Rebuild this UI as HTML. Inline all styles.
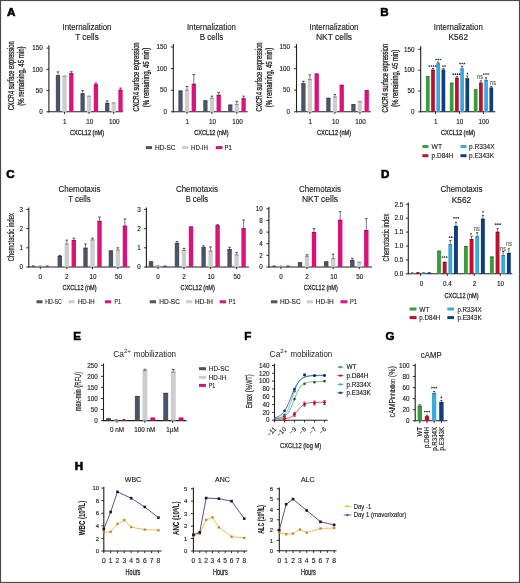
<!DOCTYPE html>
<html><head><meta charset="utf-8">
<style>
html,body{margin:0;padding:0;background:#fff;}
body{width:520px;height:583px;overflow:hidden;}
svg{display:block;will-change:transform;}
text{font-family:"Liberation Sans",sans-serif;}
</style></head><body>
<svg width="520" height="583" viewBox="0 0 520 583">
<rect x="0" y="0" width="520" height="583" fill="#fff"/>
<text x="6.90" y="16.45" font-size="11.6" font-weight="bold" fill="#000" stroke="#000" stroke-width="0.6">A</text>
<text x="380.25" y="16.35" font-size="11.6" font-weight="bold" fill="#000" stroke="#000" stroke-width="0.6">B</text>
<text x="6.35" y="178.15" font-size="11.6" font-weight="bold" fill="#000" stroke="#000" stroke-width="0.6">C</text>
<text x="380.95" y="178.35" font-size="11.6" font-weight="bold" fill="#000" stroke="#000" stroke-width="0.6">D</text>
<text x="73.25" y="340.15" font-size="11.6" font-weight="bold" fill="#000" stroke="#000" stroke-width="0.6">E</text>
<text x="244.35" y="340.15" font-size="11.6" font-weight="bold" fill="#000" stroke="#000" stroke-width="0.6">F</text>
<text x="385.60" y="340.15" font-size="11.6" font-weight="bold" fill="#000" stroke="#000" stroke-width="0.6">G</text>
<text x="74.75" y="470.35" font-size="11.6" font-weight="bold" fill="#000" stroke="#000" stroke-width="0.6">H</text>
<text x="87.00" y="30.39" font-size="8.3" text-anchor="middle" fill="#222" textLength="49.00" lengthAdjust="spacingAndGlyphs" stroke="#222" stroke-width="0.14">Internalization</text>
<text x="87.00" y="39.89" font-size="8.3" text-anchor="middle" fill="#222" textLength="23.50" lengthAdjust="spacingAndGlyphs" stroke="#222" stroke-width="0.14">T cells</text>
<text transform="translate(14.00,75.80) rotate(-90)" x="0" y="0" font-size="8.6" text-anchor="middle" fill="#222" textLength="69.00" lengthAdjust="spacingAndGlyphs" stroke="#222" stroke-width="0.3">CXCR4 surface expression</text>
<text transform="translate(24.20,76.10) rotate(-90)" x="0" y="0" font-size="8.6" text-anchor="middle" fill="#222" textLength="59.50" lengthAdjust="spacingAndGlyphs" stroke="#222" stroke-width="0.3">(% remaining, 45 min)</text>
<line x1="48.90" y1="45.20" x2="48.90" y2="112.30" stroke="#1e1e1e" stroke-width="1.1"/>
<line x1="48.40" y1="111.80" x2="123.00" y2="111.80" stroke="#1e1e1e" stroke-width="1.1"/>
<line x1="46.40" y1="48.10" x2="48.90" y2="48.10" stroke="#1e1e1e" stroke-width="0.9"/>
<text x="42.80" y="50.37" font-size="6.3" text-anchor="end" fill="#222" stroke="#222" stroke-width="0.14">150</text>
<line x1="46.40" y1="69.33" x2="48.90" y2="69.33" stroke="#1e1e1e" stroke-width="0.9"/>
<text x="42.80" y="71.60" font-size="6.3" text-anchor="end" fill="#222" stroke="#222" stroke-width="0.14">100</text>
<line x1="46.40" y1="90.57" x2="48.90" y2="90.57" stroke="#1e1e1e" stroke-width="0.9"/>
<text x="42.80" y="92.83" font-size="6.3" text-anchor="end" fill="#222" stroke="#222" stroke-width="0.14">50</text>
<line x1="46.40" y1="111.80" x2="48.90" y2="111.80" stroke="#1e1e1e" stroke-width="0.9"/>
<text x="42.80" y="114.07" font-size="6.3" text-anchor="end" fill="#222" stroke="#222" stroke-width="0.14">0</text>
<line x1="64.50" y1="111.80" x2="64.50" y2="114.00" stroke="#1e1e1e" stroke-width="0.9"/>
<line x1="89.10" y1="111.80" x2="89.10" y2="114.00" stroke="#1e1e1e" stroke-width="0.9"/>
<line x1="113.70" y1="111.80" x2="113.70" y2="114.00" stroke="#1e1e1e" stroke-width="0.9"/>
<rect x="55.85" y="75.32" width="4.30" height="36.58" fill="#4a5466"/>
<line x1="56.15" y1="75.72" x2="59.85" y2="75.72" stroke="#2c3442" stroke-width="0.8"/>
<line x1="58.00" y1="71.92" x2="58.00" y2="75.32" stroke="#555" stroke-width="0.8"/>
<line x1="56.70" y1="71.92" x2="59.30" y2="71.92" stroke="#3a3a3a" stroke-width="0.9"/>
<rect x="62.35" y="75.75" width="4.30" height="36.15" fill="#cdcdcd"/>
<line x1="62.65" y1="76.15" x2="66.35" y2="76.15" stroke="#7a7a7a" stroke-width="0.8"/>
<rect x="69.15" y="73.19" width="4.30" height="38.71" fill="#d9127c"/>
<line x1="69.45" y1="73.59" x2="73.15" y2="73.59" stroke="#8c0c52" stroke-width="0.8"/>
<line x1="71.30" y1="71.71" x2="71.30" y2="73.19" stroke="#555" stroke-width="0.8"/>
<line x1="70.00" y1="71.71" x2="72.60" y2="71.71" stroke="#3a3a3a" stroke-width="0.9"/>
<rect x="80.45" y="93.40" width="4.30" height="18.50" fill="#4a5466"/>
<line x1="80.75" y1="93.80" x2="84.45" y2="93.80" stroke="#2c3442" stroke-width="0.8"/>
<line x1="82.60" y1="90.63" x2="82.60" y2="93.40" stroke="#555" stroke-width="0.8"/>
<line x1="81.30" y1="90.63" x2="83.90" y2="90.63" stroke="#3a3a3a" stroke-width="0.9"/>
<rect x="86.95" y="95.74" width="4.30" height="16.16" fill="#cdcdcd"/>
<line x1="87.25" y1="96.14" x2="90.95" y2="96.14" stroke="#7a7a7a" stroke-width="0.8"/>
<rect x="93.75" y="84.25" width="4.30" height="27.65" fill="#d9127c"/>
<line x1="94.05" y1="84.65" x2="97.75" y2="84.65" stroke="#8c0c52" stroke-width="0.8"/>
<line x1="95.90" y1="82.98" x2="95.90" y2="84.25" stroke="#555" stroke-width="0.8"/>
<line x1="94.60" y1="82.98" x2="97.20" y2="82.98" stroke="#3a3a3a" stroke-width="0.9"/>
<rect x="105.05" y="102.97" width="4.30" height="8.93" fill="#4a5466"/>
<line x1="105.35" y1="103.37" x2="109.05" y2="103.37" stroke="#2c3442" stroke-width="0.8"/>
<line x1="107.20" y1="100.84" x2="107.20" y2="102.97" stroke="#555" stroke-width="0.8"/>
<line x1="105.90" y1="100.84" x2="108.50" y2="100.84" stroke="#3a3a3a" stroke-width="0.9"/>
<rect x="111.55" y="102.54" width="4.30" height="9.36" fill="#cdcdcd"/>
<line x1="111.85" y1="102.94" x2="115.55" y2="102.94" stroke="#7a7a7a" stroke-width="0.8"/>
<rect x="118.35" y="89.78" width="4.30" height="22.12" fill="#d9127c"/>
<line x1="118.65" y1="90.18" x2="122.35" y2="90.18" stroke="#8c0c52" stroke-width="0.8"/>
<line x1="120.50" y1="88.08" x2="120.50" y2="89.78" stroke="#555" stroke-width="0.8"/>
<line x1="119.20" y1="88.08" x2="121.80" y2="88.08" stroke="#3a3a3a" stroke-width="0.9"/>
<text x="64.80" y="123.97" font-size="6.3" text-anchor="middle" fill="#222" stroke="#222" stroke-width="0.14">1</text>
<text x="89.70" y="123.97" font-size="6.3" text-anchor="middle" fill="#222" stroke="#222" stroke-width="0.14">10</text>
<text x="114.30" y="123.97" font-size="6.3" text-anchor="middle" fill="#222" stroke="#222" stroke-width="0.14">100</text>
<text x="87.00" y="135.18" font-size="8.0" text-anchor="middle" fill="#222" textLength="34.20" lengthAdjust="spacingAndGlyphs" stroke="#222" stroke-width="0.3">CXCL12 (nM)</text>
<text x="211.40" y="30.39" font-size="8.3" text-anchor="middle" fill="#222" textLength="49.00" lengthAdjust="spacingAndGlyphs" stroke="#222" stroke-width="0.14">Internalization</text>
<text x="211.40" y="39.89" font-size="8.3" text-anchor="middle" fill="#222" textLength="23.50" lengthAdjust="spacingAndGlyphs" stroke="#222" stroke-width="0.14">B cells</text>
<text transform="translate(139.00,77.00) rotate(-90)" x="0" y="0" font-size="8.6" text-anchor="middle" fill="#222" textLength="69.00" lengthAdjust="spacingAndGlyphs" stroke="#222" stroke-width="0.3">CXCR4 surface expression</text>
<text transform="translate(149.20,77.50) rotate(-90)" x="0" y="0" font-size="8.6" text-anchor="middle" fill="#222" textLength="59.50" lengthAdjust="spacingAndGlyphs" stroke="#222" stroke-width="0.3">(% remaining, 45 min)</text>
<line x1="173.30" y1="44.10" x2="173.30" y2="112.30" stroke="#1e1e1e" stroke-width="1.1"/>
<line x1="172.80" y1="111.80" x2="247.60" y2="111.80" stroke="#1e1e1e" stroke-width="1.1"/>
<line x1="170.80" y1="47.00" x2="173.30" y2="47.00" stroke="#1e1e1e" stroke-width="0.9"/>
<text x="167.00" y="49.27" font-size="6.3" text-anchor="end" fill="#222" stroke="#222" stroke-width="0.14">150</text>
<line x1="170.80" y1="68.60" x2="173.30" y2="68.60" stroke="#1e1e1e" stroke-width="0.9"/>
<text x="167.00" y="70.87" font-size="6.3" text-anchor="end" fill="#222" stroke="#222" stroke-width="0.14">100</text>
<line x1="170.80" y1="90.20" x2="173.30" y2="90.20" stroke="#1e1e1e" stroke-width="0.9"/>
<text x="167.00" y="92.47" font-size="6.3" text-anchor="end" fill="#222" stroke="#222" stroke-width="0.14">50</text>
<line x1="170.80" y1="111.80" x2="173.30" y2="111.80" stroke="#1e1e1e" stroke-width="0.9"/>
<text x="167.00" y="114.07" font-size="6.3" text-anchor="end" fill="#222" stroke="#222" stroke-width="0.14">0</text>
<line x1="187.00" y1="111.80" x2="187.00" y2="114.00" stroke="#1e1e1e" stroke-width="0.9"/>
<line x1="211.90" y1="111.80" x2="211.90" y2="114.00" stroke="#1e1e1e" stroke-width="0.9"/>
<line x1="236.80" y1="111.80" x2="236.80" y2="114.00" stroke="#1e1e1e" stroke-width="0.9"/>
<rect x="178.35" y="90.63" width="4.30" height="21.27" fill="#4a5466"/>
<line x1="178.65" y1="91.03" x2="182.35" y2="91.03" stroke="#2c3442" stroke-width="0.8"/>
<rect x="184.85" y="89.78" width="4.30" height="22.12" fill="#cdcdcd"/>
<line x1="185.15" y1="90.18" x2="188.85" y2="90.18" stroke="#7a7a7a" stroke-width="0.8"/>
<line x1="187.00" y1="86.38" x2="187.00" y2="89.78" stroke="#555" stroke-width="0.8"/>
<line x1="185.70" y1="86.38" x2="188.30" y2="86.38" stroke="#3a3a3a" stroke-width="0.9"/>
<rect x="191.65" y="83.83" width="4.30" height="28.07" fill="#d9127c"/>
<line x1="191.95" y1="84.23" x2="195.65" y2="84.23" stroke="#8c0c52" stroke-width="0.8"/>
<line x1="193.80" y1="74.47" x2="193.80" y2="83.83" stroke="#555" stroke-width="0.8"/>
<line x1="192.50" y1="74.47" x2="195.10" y2="74.47" stroke="#3a3a3a" stroke-width="0.9"/>
<rect x="203.25" y="100.42" width="4.30" height="11.48" fill="#4a5466"/>
<line x1="203.55" y1="100.82" x2="207.25" y2="100.82" stroke="#2c3442" stroke-width="0.8"/>
<rect x="209.75" y="97.86" width="4.30" height="14.04" fill="#cdcdcd"/>
<line x1="210.05" y1="98.26" x2="213.75" y2="98.26" stroke="#7a7a7a" stroke-width="0.8"/>
<line x1="211.90" y1="96.16" x2="211.90" y2="97.86" stroke="#555" stroke-width="0.8"/>
<line x1="210.60" y1="96.16" x2="213.20" y2="96.16" stroke="#3a3a3a" stroke-width="0.9"/>
<rect x="216.55" y="94.89" width="4.30" height="17.01" fill="#d9127c"/>
<line x1="216.85" y1="95.29" x2="220.55" y2="95.29" stroke="#8c0c52" stroke-width="0.8"/>
<line x1="218.70" y1="92.33" x2="218.70" y2="94.89" stroke="#555" stroke-width="0.8"/>
<line x1="217.40" y1="92.33" x2="220.00" y2="92.33" stroke="#3a3a3a" stroke-width="0.9"/>
<rect x="228.15" y="104.67" width="4.30" height="7.23" fill="#4a5466"/>
<line x1="228.45" y1="105.07" x2="232.15" y2="105.07" stroke="#2c3442" stroke-width="0.8"/>
<rect x="234.65" y="104.24" width="4.30" height="7.66" fill="#cdcdcd"/>
<line x1="234.95" y1="104.64" x2="238.65" y2="104.64" stroke="#7a7a7a" stroke-width="0.8"/>
<line x1="236.80" y1="101.27" x2="236.80" y2="104.24" stroke="#555" stroke-width="0.8"/>
<line x1="235.50" y1="101.27" x2="238.10" y2="101.27" stroke="#3a3a3a" stroke-width="0.9"/>
<rect x="241.45" y="98.29" width="4.30" height="13.61" fill="#d9127c"/>
<line x1="241.75" y1="98.69" x2="245.45" y2="98.69" stroke="#8c0c52" stroke-width="0.8"/>
<line x1="243.60" y1="96.16" x2="243.60" y2="98.29" stroke="#555" stroke-width="0.8"/>
<line x1="242.30" y1="96.16" x2="244.90" y2="96.16" stroke="#3a3a3a" stroke-width="0.9"/>
<text x="187.30" y="123.97" font-size="6.3" text-anchor="middle" fill="#222" stroke="#222" stroke-width="0.14">1</text>
<text x="212.50" y="123.97" font-size="6.3" text-anchor="middle" fill="#222" stroke="#222" stroke-width="0.14">10</text>
<text x="237.40" y="123.97" font-size="6.3" text-anchor="middle" fill="#222" stroke="#222" stroke-width="0.14">100</text>
<text x="211.40" y="135.18" font-size="8.0" text-anchor="middle" fill="#222" textLength="34.20" lengthAdjust="spacingAndGlyphs" stroke="#222" stroke-width="0.3">CXCL12 (nM)</text>
<rect x="145.80" y="146.10" width="6.20" height="3.00" fill="#4a5466"/>
<text x="155.00" y="150.12" font-size="7.0" text-anchor="start" fill="#1e1e1e" textLength="20.50" lengthAdjust="spacingAndGlyphs" stroke="#1e1e1e" stroke-width="0.14">HD-SC</text>
<rect x="182.00" y="146.10" width="6.30" height="3.00" fill="#cdcdcd"/>
<text x="191.00" y="150.12" font-size="7.0" text-anchor="start" fill="#1e1e1e" textLength="17.00" lengthAdjust="spacingAndGlyphs" stroke="#1e1e1e" stroke-width="0.14">HD-IH</text>
<rect x="215.80" y="146.10" width="6.70" height="3.00" fill="#d9127c"/>
<text x="224.50" y="150.12" font-size="7.0" text-anchor="start" fill="#1e1e1e" textLength="7.30" lengthAdjust="spacingAndGlyphs" stroke="#1e1e1e" stroke-width="0.14">P1</text>
<text x="334.00" y="30.39" font-size="8.3" text-anchor="middle" fill="#222" textLength="49.00" lengthAdjust="spacingAndGlyphs" stroke="#222" stroke-width="0.14">Internalization</text>
<text x="334.00" y="39.89" font-size="8.3" text-anchor="middle" fill="#222" textLength="36.00" lengthAdjust="spacingAndGlyphs" stroke="#222" stroke-width="0.14">NKT cells</text>
<text transform="translate(261.80,77.00) rotate(-90)" x="0" y="0" font-size="8.6" text-anchor="middle" fill="#222" textLength="69.00" lengthAdjust="spacingAndGlyphs" stroke="#222" stroke-width="0.3">CXCR4 surface expression</text>
<text transform="translate(272.10,77.50) rotate(-90)" x="0" y="0" font-size="8.6" text-anchor="middle" fill="#222" textLength="59.50" lengthAdjust="spacingAndGlyphs" stroke="#222" stroke-width="0.3">(% remaining, 45 min)</text>
<line x1="296.50" y1="44.10" x2="296.50" y2="112.30" stroke="#1e1e1e" stroke-width="1.1"/>
<line x1="296.00" y1="111.80" x2="370.70" y2="111.80" stroke="#1e1e1e" stroke-width="1.1"/>
<line x1="294.00" y1="47.00" x2="296.50" y2="47.00" stroke="#1e1e1e" stroke-width="0.9"/>
<text x="290.00" y="49.27" font-size="6.3" text-anchor="end" fill="#222" stroke="#222" stroke-width="0.14">150</text>
<line x1="294.00" y1="68.60" x2="296.50" y2="68.60" stroke="#1e1e1e" stroke-width="0.9"/>
<text x="290.00" y="70.87" font-size="6.3" text-anchor="end" fill="#222" stroke="#222" stroke-width="0.14">100</text>
<line x1="294.00" y1="90.20" x2="296.50" y2="90.20" stroke="#1e1e1e" stroke-width="0.9"/>
<text x="290.00" y="92.47" font-size="6.3" text-anchor="end" fill="#222" stroke="#222" stroke-width="0.14">50</text>
<line x1="294.00" y1="111.80" x2="296.50" y2="111.80" stroke="#1e1e1e" stroke-width="0.9"/>
<text x="290.00" y="114.07" font-size="6.3" text-anchor="end" fill="#222" stroke="#222" stroke-width="0.14">0</text>
<line x1="309.90" y1="111.80" x2="309.90" y2="114.00" stroke="#1e1e1e" stroke-width="0.9"/>
<line x1="334.90" y1="111.80" x2="334.90" y2="114.00" stroke="#1e1e1e" stroke-width="0.9"/>
<line x1="359.90" y1="111.80" x2="359.90" y2="114.00" stroke="#1e1e1e" stroke-width="0.9"/>
<rect x="301.25" y="83.40" width="4.30" height="28.50" fill="#4a5466"/>
<line x1="301.55" y1="83.80" x2="305.25" y2="83.80" stroke="#2c3442" stroke-width="0.8"/>
<line x1="303.40" y1="81.28" x2="303.40" y2="83.40" stroke="#555" stroke-width="0.8"/>
<line x1="302.10" y1="81.28" x2="304.70" y2="81.28" stroke="#3a3a3a" stroke-width="0.9"/>
<rect x="307.75" y="79.15" width="4.30" height="32.75" fill="#cdcdcd"/>
<line x1="308.05" y1="79.55" x2="311.75" y2="79.55" stroke="#7a7a7a" stroke-width="0.8"/>
<line x1="309.90" y1="74.90" x2="309.90" y2="79.15" stroke="#555" stroke-width="0.8"/>
<line x1="308.60" y1="74.90" x2="311.20" y2="74.90" stroke="#3a3a3a" stroke-width="0.9"/>
<rect x="314.55" y="73.62" width="4.30" height="38.28" fill="#d9127c"/>
<line x1="314.85" y1="74.02" x2="318.55" y2="74.02" stroke="#8c0c52" stroke-width="0.8"/>
<rect x="326.25" y="97.86" width="4.30" height="14.04" fill="#4a5466"/>
<line x1="326.55" y1="98.26" x2="330.25" y2="98.26" stroke="#2c3442" stroke-width="0.8"/>
<rect x="332.75" y="96.59" width="4.30" height="15.31" fill="#cdcdcd"/>
<line x1="333.05" y1="96.99" x2="336.75" y2="96.99" stroke="#7a7a7a" stroke-width="0.8"/>
<line x1="334.90" y1="94.46" x2="334.90" y2="96.59" stroke="#555" stroke-width="0.8"/>
<line x1="333.60" y1="94.46" x2="336.20" y2="94.46" stroke="#3a3a3a" stroke-width="0.9"/>
<rect x="339.55" y="84.85" width="4.30" height="27.05" fill="#d9127c"/>
<line x1="339.85" y1="85.25" x2="343.55" y2="85.25" stroke="#8c0c52" stroke-width="0.8"/>
<rect x="351.25" y="104.24" width="4.30" height="7.66" fill="#4a5466"/>
<line x1="351.55" y1="104.64" x2="355.25" y2="104.64" stroke="#2c3442" stroke-width="0.8"/>
<rect x="357.75" y="101.27" width="4.30" height="10.63" fill="#cdcdcd"/>
<line x1="358.05" y1="101.67" x2="361.75" y2="101.67" stroke="#7a7a7a" stroke-width="0.8"/>
<rect x="364.55" y="90.21" width="4.30" height="21.69" fill="#d9127c"/>
<line x1="364.85" y1="90.61" x2="368.55" y2="90.61" stroke="#8c0c52" stroke-width="0.8"/>
<text x="310.20" y="123.97" font-size="6.3" text-anchor="middle" fill="#222" stroke="#222" stroke-width="0.14">1</text>
<text x="335.50" y="123.97" font-size="6.3" text-anchor="middle" fill="#222" stroke="#222" stroke-width="0.14">10</text>
<text x="360.50" y="123.97" font-size="6.3" text-anchor="middle" fill="#222" stroke="#222" stroke-width="0.14">100</text>
<text x="334.00" y="135.18" font-size="8.0" text-anchor="middle" fill="#222" textLength="34.20" lengthAdjust="spacingAndGlyphs" stroke="#222" stroke-width="0.3">CXCL12 (nM)</text>
<text x="458.30" y="30.39" font-size="8.3" text-anchor="middle" fill="#222" textLength="49.00" lengthAdjust="spacingAndGlyphs" stroke="#222" stroke-width="0.14">Internalization</text>
<text x="458.30" y="40.19" font-size="8.3" text-anchor="middle" fill="#222" textLength="19.50" lengthAdjust="spacingAndGlyphs" stroke="#222" stroke-width="0.14">K562</text>
<text transform="translate(388.10,78.20) rotate(-90)" x="0" y="0" font-size="8.6" text-anchor="middle" fill="#222" textLength="68.50" lengthAdjust="spacingAndGlyphs" stroke="#222" stroke-width="0.3">CXCR4 surface expression</text>
<text transform="translate(398.40,78.20) rotate(-90)" x="0" y="0" font-size="8.6" text-anchor="middle" fill="#222" textLength="57.00" lengthAdjust="spacingAndGlyphs" stroke="#222" stroke-width="0.3">(% remaining, 45 min)</text>
<line x1="420.70" y1="46.30" x2="420.70" y2="112.30" stroke="#1e1e1e" stroke-width="1.1"/>
<line x1="420.20" y1="111.80" x2="495.40" y2="111.80" stroke="#1e1e1e" stroke-width="1.1"/>
<line x1="418.20" y1="49.30" x2="420.70" y2="49.30" stroke="#1e1e1e" stroke-width="0.9"/>
<text x="414.60" y="51.57" font-size="6.3" text-anchor="end" fill="#222" stroke="#222" stroke-width="0.14">150</text>
<line x1="418.20" y1="70.13" x2="420.70" y2="70.13" stroke="#1e1e1e" stroke-width="0.9"/>
<text x="414.60" y="72.40" font-size="6.3" text-anchor="end" fill="#222" stroke="#222" stroke-width="0.14">100</text>
<line x1="418.20" y1="90.97" x2="420.70" y2="90.97" stroke="#1e1e1e" stroke-width="0.9"/>
<text x="414.60" y="93.23" font-size="6.3" text-anchor="end" fill="#222" stroke="#222" stroke-width="0.14">50</text>
<line x1="418.20" y1="111.80" x2="420.70" y2="111.80" stroke="#1e1e1e" stroke-width="0.9"/>
<text x="414.60" y="114.07" font-size="6.3" text-anchor="end" fill="#222" stroke="#222" stroke-width="0.14">0</text>
<line x1="435.50" y1="111.80" x2="435.50" y2="114.00" stroke="#1e1e1e" stroke-width="0.9"/>
<line x1="459.40" y1="111.80" x2="459.40" y2="114.00" stroke="#1e1e1e" stroke-width="0.9"/>
<line x1="483.40" y1="111.80" x2="483.40" y2="114.00" stroke="#1e1e1e" stroke-width="0.9"/>
<rect x="425.95" y="76.17" width="3.70" height="35.73" fill="#3c9c3c"/>
<line x1="426.25" y1="76.57" x2="429.35" y2="76.57" stroke="#24602a" stroke-width="0.8"/>
<rect x="431.15" y="69.79" width="3.70" height="42.11" fill="#b8122c"/>
<line x1="431.45" y1="70.19" x2="434.55" y2="70.19" stroke="#6e0a1a" stroke-width="0.8"/>
<line x1="433.00" y1="68.52" x2="433.00" y2="69.79" stroke="#555" stroke-width="0.8"/>
<line x1="431.90" y1="68.52" x2="434.10" y2="68.52" stroke="#3a3a3a" stroke-width="0.9"/>
<rect x="436.35" y="63.41" width="3.70" height="48.49" fill="#3ea8da"/>
<line x1="436.65" y1="63.81" x2="439.75" y2="63.81" stroke="#2a6e90" stroke-width="0.8"/>
<line x1="438.20" y1="62.14" x2="438.20" y2="63.41" stroke="#555" stroke-width="0.8"/>
<line x1="437.10" y1="62.14" x2="439.30" y2="62.14" stroke="#3a3a3a" stroke-width="0.9"/>
<rect x="441.55" y="69.79" width="3.70" height="42.11" fill="#0f3e7a"/>
<line x1="441.85" y1="70.19" x2="444.95" y2="70.19" stroke="#0a2650" stroke-width="0.8"/>
<line x1="443.40" y1="68.52" x2="443.40" y2="69.79" stroke="#555" stroke-width="0.8"/>
<line x1="442.30" y1="68.52" x2="444.50" y2="68.52" stroke="#3a3a3a" stroke-width="0.9"/>
<rect x="449.85" y="82.76" width="3.70" height="29.14" fill="#3c9c3c"/>
<line x1="450.15" y1="83.16" x2="453.25" y2="83.16" stroke="#24602a" stroke-width="0.8"/>
<rect x="455.05" y="77.87" width="3.70" height="34.03" fill="#b8122c"/>
<line x1="455.35" y1="78.27" x2="458.45" y2="78.27" stroke="#6e0a1a" stroke-width="0.8"/>
<line x1="456.90" y1="76.60" x2="456.90" y2="77.87" stroke="#555" stroke-width="0.8"/>
<line x1="455.80" y1="76.60" x2="458.00" y2="76.60" stroke="#3a3a3a" stroke-width="0.9"/>
<rect x="460.25" y="68.52" width="3.70" height="43.38" fill="#3ea8da"/>
<line x1="460.55" y1="68.92" x2="463.65" y2="68.92" stroke="#2a6e90" stroke-width="0.8"/>
<line x1="462.10" y1="66.39" x2="462.10" y2="68.52" stroke="#555" stroke-width="0.8"/>
<line x1="461.00" y1="66.39" x2="463.20" y2="66.39" stroke="#3a3a3a" stroke-width="0.9"/>
<rect x="465.45" y="78.30" width="3.70" height="33.60" fill="#0f3e7a"/>
<line x1="465.75" y1="78.70" x2="468.85" y2="78.70" stroke="#0a2650" stroke-width="0.8"/>
<line x1="467.30" y1="76.17" x2="467.30" y2="78.30" stroke="#555" stroke-width="0.8"/>
<line x1="466.20" y1="76.17" x2="468.40" y2="76.17" stroke="#3a3a3a" stroke-width="0.9"/>
<rect x="473.85" y="89.36" width="3.70" height="22.54" fill="#3c9c3c"/>
<line x1="474.15" y1="89.76" x2="477.25" y2="89.76" stroke="#24602a" stroke-width="0.8"/>
<rect x="479.05" y="82.76" width="3.70" height="29.14" fill="#b8122c"/>
<line x1="479.35" y1="83.16" x2="482.45" y2="83.16" stroke="#6e0a1a" stroke-width="0.8"/>
<line x1="480.90" y1="80.85" x2="480.90" y2="82.76" stroke="#555" stroke-width="0.8"/>
<line x1="479.80" y1="80.85" x2="482.00" y2="80.85" stroke="#3a3a3a" stroke-width="0.9"/>
<rect x="484.25" y="80.00" width="3.70" height="31.90" fill="#3ea8da"/>
<line x1="484.55" y1="80.40" x2="487.65" y2="80.40" stroke="#2a6e90" stroke-width="0.8"/>
<line x1="486.10" y1="77.87" x2="486.10" y2="80.00" stroke="#555" stroke-width="0.8"/>
<line x1="485.00" y1="77.87" x2="487.20" y2="77.87" stroke="#3a3a3a" stroke-width="0.9"/>
<rect x="489.45" y="87.66" width="3.70" height="24.24" fill="#0f3e7a"/>
<line x1="489.75" y1="88.06" x2="492.85" y2="88.06" stroke="#0a2650" stroke-width="0.8"/>
<line x1="491.30" y1="86.38" x2="491.30" y2="87.66" stroke="#555" stroke-width="0.8"/>
<line x1="490.20" y1="86.38" x2="492.40" y2="86.38" stroke="#3a3a3a" stroke-width="0.9"/>
<text x="435.80" y="123.97" font-size="6.3" text-anchor="middle" fill="#222" stroke="#222" stroke-width="0.14">1</text>
<text x="459.80" y="123.97" font-size="6.3" text-anchor="middle" fill="#222" stroke="#222" stroke-width="0.14">10</text>
<text x="483.80" y="123.97" font-size="6.3" text-anchor="middle" fill="#222" stroke="#222" stroke-width="0.14">100</text>
<text x="458.00" y="135.18" font-size="8.0" text-anchor="middle" fill="#222" textLength="34.20" lengthAdjust="spacingAndGlyphs" stroke="#222" stroke-width="0.3">CXCL12 (nM)</text>
<circle cx="436.15" cy="59.50" r="0.85" fill="#2a2a2a"/>
<circle cx="438.30" cy="59.50" r="0.85" fill="#2a2a2a"/>
<circle cx="440.45" cy="59.50" r="0.85" fill="#2a2a2a"/>
<circle cx="429.27" cy="66.00" r="0.85" fill="#2a2a2a"/>
<circle cx="431.43" cy="66.00" r="0.85" fill="#2a2a2a"/>
<circle cx="433.57" cy="66.00" r="0.85" fill="#2a2a2a"/>
<circle cx="435.73" cy="66.00" r="0.85" fill="#2a2a2a"/>
<circle cx="442.93" cy="66.00" r="0.85" fill="#2a2a2a"/>
<circle cx="445.07" cy="66.00" r="0.85" fill="#2a2a2a"/>
<circle cx="460.05" cy="63.50" r="0.85" fill="#2a2a2a"/>
<circle cx="462.20" cy="63.50" r="0.85" fill="#2a2a2a"/>
<circle cx="464.35" cy="63.50" r="0.85" fill="#2a2a2a"/>
<circle cx="453.27" cy="74.20" r="0.85" fill="#2a2a2a"/>
<circle cx="455.43" cy="74.20" r="0.85" fill="#2a2a2a"/>
<circle cx="457.57" cy="74.20" r="0.85" fill="#2a2a2a"/>
<circle cx="459.73" cy="74.20" r="0.85" fill="#2a2a2a"/>
<circle cx="467.50" cy="73.60" r="0.85" fill="#2a2a2a"/>
<text x="480.00" y="79.20" font-size="6.4" text-anchor="middle" fill="#555" textLength="5.80" lengthAdjust="spacingAndGlyphs" stroke="#555" stroke-width="0.1">ns</text>
<circle cx="483.85" cy="74.00" r="0.85" fill="#2a2a2a"/>
<circle cx="486.00" cy="74.00" r="0.85" fill="#2a2a2a"/>
<circle cx="488.15" cy="74.00" r="0.85" fill="#2a2a2a"/>
<text x="493.00" y="84.90" font-size="6.4" text-anchor="middle" fill="#555" textLength="5.80" lengthAdjust="spacingAndGlyphs" stroke="#555" stroke-width="0.1">ns</text>
<rect x="422.40" y="145.00" width="6.00" height="3.00" fill="#3c9c3c"/>
<text x="431.60" y="149.02" font-size="7.0" text-anchor="start" fill="#1e1e1e" textLength="10.40" lengthAdjust="spacingAndGlyphs" stroke="#1e1e1e" stroke-width="0.14">WT</text>
<rect x="460.50" y="145.00" width="6.00" height="3.00" fill="#3ea8da"/>
<text x="469.00" y="149.02" font-size="7.0" text-anchor="start" fill="#1e1e1e" textLength="25.60" lengthAdjust="spacingAndGlyphs" stroke="#1e1e1e" stroke-width="0.14">p.R334X</text>
<rect x="422.40" y="154.20" width="6.00" height="3.00" fill="#b8122c"/>
<text x="431.60" y="158.22" font-size="7.0" text-anchor="start" fill="#1e1e1e" textLength="21.90" lengthAdjust="spacingAndGlyphs" stroke="#1e1e1e" stroke-width="0.14">p.D84H</text>
<rect x="460.50" y="154.20" width="6.00" height="3.00" fill="#0f3e7a"/>
<text x="469.00" y="158.22" font-size="7.0" text-anchor="start" fill="#1e1e1e" textLength="25.00" lengthAdjust="spacingAndGlyphs" stroke="#1e1e1e" stroke-width="0.14">p.E343K</text>
<text x="79.50" y="191.79" font-size="8.3" text-anchor="middle" fill="#222" textLength="42.00" lengthAdjust="spacingAndGlyphs" stroke="#222" stroke-width="0.14">Chemotaxis</text>
<text x="79.50" y="202.39" font-size="8.3" text-anchor="middle" fill="#222" textLength="22.50" lengthAdjust="spacingAndGlyphs" stroke="#222" stroke-width="0.14">T cells</text>
<text transform="translate(14.10,237.20) rotate(-90)" x="0" y="0" font-size="8.6" text-anchor="middle" fill="#222" textLength="48.00" lengthAdjust="spacingAndGlyphs" stroke="#222" stroke-width="0.2">Chemotactic index</text>
<line x1="28.80" y1="207.60" x2="28.80" y2="267.50" stroke="#1e1e1e" stroke-width="1.1"/>
<line x1="28.30" y1="267.00" x2="130.00" y2="267.00" stroke="#1e1e1e" stroke-width="1.1"/>
<line x1="26.30" y1="209.40" x2="28.80" y2="209.40" stroke="#1e1e1e" stroke-width="0.9"/>
<text x="23.00" y="211.67" font-size="6.3" text-anchor="end" fill="#222" stroke="#222" stroke-width="0.14">3</text>
<line x1="26.30" y1="228.60" x2="28.80" y2="228.60" stroke="#1e1e1e" stroke-width="0.9"/>
<text x="23.00" y="230.87" font-size="6.3" text-anchor="end" fill="#222" stroke="#222" stroke-width="0.14">2</text>
<line x1="26.30" y1="247.80" x2="28.80" y2="247.80" stroke="#1e1e1e" stroke-width="0.9"/>
<text x="23.00" y="250.07" font-size="6.3" text-anchor="end" fill="#222" stroke="#222" stroke-width="0.14">1</text>
<line x1="26.30" y1="267.00" x2="28.80" y2="267.00" stroke="#1e1e1e" stroke-width="0.9"/>
<text x="23.00" y="269.27" font-size="6.3" text-anchor="end" fill="#222" stroke="#222" stroke-width="0.14">0</text>
<line x1="40.30" y1="267.00" x2="40.30" y2="269.20" stroke="#1e1e1e" stroke-width="0.9"/>
<line x1="66.80" y1="267.00" x2="66.80" y2="269.20" stroke="#1e1e1e" stroke-width="0.9"/>
<line x1="92.50" y1="267.00" x2="92.50" y2="269.20" stroke="#1e1e1e" stroke-width="0.9"/>
<line x1="117.90" y1="267.00" x2="117.90" y2="269.20" stroke="#1e1e1e" stroke-width="0.9"/>
<rect x="31.10" y="266.42" width="4.40" height="0.58" fill="#4a5466"/>
<line x1="32.00" y1="266.00" x2="34.60" y2="266.00" stroke="#2c3442" stroke-width="1.0"/>
<rect x="38.10" y="266.62" width="4.40" height="0.38" fill="#cdcdcd"/>
<line x1="39.00" y1="266.00" x2="41.60" y2="266.00" stroke="#7a7a7a" stroke-width="1.0"/>
<rect x="45.10" y="266.62" width="4.40" height="0.38" fill="#d9127c"/>
<line x1="46.00" y1="266.00" x2="48.60" y2="266.00" stroke="#8c0c52" stroke-width="1.0"/>
<rect x="57.60" y="256.06" width="4.40" height="10.94" fill="#4a5466"/>
<line x1="57.90" y1="256.46" x2="61.70" y2="256.46" stroke="#2c3442" stroke-width="0.8"/>
<line x1="59.80" y1="255.48" x2="59.80" y2="256.06" stroke="#555" stroke-width="0.8"/>
<line x1="58.50" y1="255.48" x2="61.10" y2="255.48" stroke="#3a3a3a" stroke-width="0.9"/>
<rect x="64.60" y="243.58" width="4.40" height="23.42" fill="#cdcdcd"/>
<line x1="64.90" y1="243.98" x2="68.70" y2="243.98" stroke="#7a7a7a" stroke-width="0.8"/>
<line x1="66.80" y1="240.12" x2="66.80" y2="243.58" stroke="#555" stroke-width="0.8"/>
<line x1="65.50" y1="240.12" x2="68.10" y2="240.12" stroke="#3a3a3a" stroke-width="0.9"/>
<rect x="71.60" y="240.12" width="4.40" height="26.88" fill="#d9127c"/>
<line x1="71.90" y1="240.52" x2="75.70" y2="240.52" stroke="#8c0c52" stroke-width="0.8"/>
<line x1="73.80" y1="238.20" x2="73.80" y2="240.12" stroke="#555" stroke-width="0.8"/>
<line x1="72.50" y1="238.20" x2="75.10" y2="238.20" stroke="#3a3a3a" stroke-width="0.9"/>
<rect x="83.30" y="247.80" width="4.40" height="19.20" fill="#4a5466"/>
<line x1="83.60" y1="248.20" x2="87.40" y2="248.20" stroke="#2c3442" stroke-width="0.8"/>
<line x1="85.50" y1="243.96" x2="85.50" y2="247.80" stroke="#555" stroke-width="0.8"/>
<line x1="84.20" y1="243.96" x2="86.80" y2="243.96" stroke="#3a3a3a" stroke-width="0.9"/>
<rect x="90.30" y="239.54" width="4.40" height="27.46" fill="#cdcdcd"/>
<line x1="90.60" y1="239.94" x2="94.40" y2="239.94" stroke="#7a7a7a" stroke-width="0.8"/>
<line x1="92.50" y1="238.20" x2="92.50" y2="239.54" stroke="#555" stroke-width="0.8"/>
<line x1="91.20" y1="238.20" x2="93.80" y2="238.20" stroke="#3a3a3a" stroke-width="0.9"/>
<rect x="97.30" y="220.92" width="4.40" height="46.08" fill="#d9127c"/>
<line x1="97.60" y1="221.32" x2="101.40" y2="221.32" stroke="#8c0c52" stroke-width="0.8"/>
<line x1="99.50" y1="217.08" x2="99.50" y2="220.92" stroke="#555" stroke-width="0.8"/>
<line x1="98.20" y1="217.08" x2="100.80" y2="217.08" stroke="#3a3a3a" stroke-width="0.9"/>
<rect x="108.70" y="250.49" width="4.40" height="16.51" fill="#4a5466"/>
<line x1="109.00" y1="250.89" x2="112.80" y2="250.89" stroke="#2c3442" stroke-width="0.8"/>
<rect x="115.70" y="249.72" width="4.40" height="17.28" fill="#cdcdcd"/>
<line x1="116.00" y1="250.12" x2="119.80" y2="250.12" stroke="#7a7a7a" stroke-width="0.8"/>
<line x1="117.90" y1="247.80" x2="117.90" y2="249.72" stroke="#555" stroke-width="0.8"/>
<line x1="116.60" y1="247.80" x2="119.20" y2="247.80" stroke="#3a3a3a" stroke-width="0.9"/>
<rect x="122.70" y="225.72" width="4.40" height="41.28" fill="#d9127c"/>
<line x1="123.00" y1="226.12" x2="126.80" y2="226.12" stroke="#8c0c52" stroke-width="0.8"/>
<line x1="124.90" y1="219.00" x2="124.90" y2="225.72" stroke="#555" stroke-width="0.8"/>
<line x1="123.60" y1="219.00" x2="126.20" y2="219.00" stroke="#3a3a3a" stroke-width="0.9"/>
<text x="40.30" y="278.87" font-size="6.3" text-anchor="middle" fill="#222" stroke="#222" stroke-width="0.14">0</text>
<text x="66.80" y="278.87" font-size="6.3" text-anchor="middle" fill="#222" stroke="#222" stroke-width="0.14">2</text>
<text x="93.00" y="278.87" font-size="6.3" text-anchor="middle" fill="#222" stroke="#222" stroke-width="0.14">10</text>
<text x="118.40" y="278.87" font-size="6.3" text-anchor="middle" fill="#222" stroke="#222" stroke-width="0.14">50</text>
<text x="79.50" y="290.38" font-size="8.0" text-anchor="middle" fill="#222" textLength="34.20" lengthAdjust="spacingAndGlyphs" stroke="#222" stroke-width="0.28">CXCL12 (nM)</text>
<rect x="36.50" y="300.30" width="6.00" height="3.00" fill="#4a5466"/>
<text x="45.30" y="304.32" font-size="7.0" text-anchor="start" fill="#1e1e1e" textLength="16.40" lengthAdjust="spacingAndGlyphs" stroke="#1e1e1e" stroke-width="0.14">HD-SC</text>
<rect x="68.60" y="300.30" width="5.90" height="3.00" fill="#cdcdcd"/>
<text x="78.00" y="304.32" font-size="7.0" text-anchor="start" fill="#1e1e1e" textLength="16.60" lengthAdjust="spacingAndGlyphs" stroke="#1e1e1e" stroke-width="0.14">HD-IH</text>
<rect x="105.00" y="300.30" width="6.00" height="3.00" fill="#d9127c"/>
<text x="114.60" y="304.32" font-size="7.0" text-anchor="start" fill="#1e1e1e" textLength="6.10" lengthAdjust="spacingAndGlyphs" stroke="#1e1e1e" stroke-width="0.14">P1</text>
<text x="196.90" y="191.79" font-size="8.3" text-anchor="middle" fill="#222" textLength="42.00" lengthAdjust="spacingAndGlyphs" stroke="#222" stroke-width="0.14">Chemotaxis</text>
<text x="196.90" y="202.39" font-size="8.3" text-anchor="middle" fill="#222" textLength="22.50" lengthAdjust="spacingAndGlyphs" stroke="#222" stroke-width="0.14">B cells</text>
<line x1="146.40" y1="207.60" x2="146.40" y2="267.50" stroke="#1e1e1e" stroke-width="1.1"/>
<line x1="145.90" y1="267.00" x2="249.00" y2="267.00" stroke="#1e1e1e" stroke-width="1.1"/>
<line x1="143.90" y1="209.40" x2="146.40" y2="209.40" stroke="#1e1e1e" stroke-width="0.9"/>
<text x="140.80" y="211.67" font-size="6.3" text-anchor="end" fill="#222" stroke="#222" stroke-width="0.14">3</text>
<line x1="143.90" y1="228.60" x2="146.40" y2="228.60" stroke="#1e1e1e" stroke-width="0.9"/>
<text x="140.80" y="230.87" font-size="6.3" text-anchor="end" fill="#222" stroke="#222" stroke-width="0.14">2</text>
<line x1="143.90" y1="247.80" x2="146.40" y2="247.80" stroke="#1e1e1e" stroke-width="0.9"/>
<text x="140.80" y="250.07" font-size="6.3" text-anchor="end" fill="#222" stroke="#222" stroke-width="0.14">1</text>
<line x1="143.90" y1="267.00" x2="146.40" y2="267.00" stroke="#1e1e1e" stroke-width="0.9"/>
<text x="140.80" y="269.27" font-size="6.3" text-anchor="end" fill="#222" stroke="#222" stroke-width="0.14">0</text>
<line x1="158.00" y1="267.00" x2="158.00" y2="269.20" stroke="#1e1e1e" stroke-width="0.9"/>
<line x1="184.00" y1="267.00" x2="184.00" y2="269.20" stroke="#1e1e1e" stroke-width="0.9"/>
<line x1="210.60" y1="267.00" x2="210.60" y2="269.20" stroke="#1e1e1e" stroke-width="0.9"/>
<line x1="236.60" y1="267.00" x2="236.60" y2="269.20" stroke="#1e1e1e" stroke-width="0.9"/>
<rect x="148.80" y="261.43" width="4.40" height="5.57" fill="#4a5466"/>
<line x1="149.10" y1="261.83" x2="152.90" y2="261.83" stroke="#2c3442" stroke-width="0.8"/>
<rect x="155.80" y="265.08" width="4.40" height="1.92" fill="#cdcdcd"/>
<line x1="156.70" y1="266.00" x2="159.30" y2="266.00" stroke="#7a7a7a" stroke-width="1.0"/>
<rect x="162.80" y="266.04" width="4.40" height="0.96" fill="#d9127c"/>
<line x1="163.70" y1="266.00" x2="166.30" y2="266.00" stroke="#8c0c52" stroke-width="1.0"/>
<rect x="174.80" y="243.00" width="4.40" height="24.00" fill="#4a5466"/>
<line x1="175.10" y1="243.40" x2="178.90" y2="243.40" stroke="#2c3442" stroke-width="0.8"/>
<line x1="177.00" y1="241.46" x2="177.00" y2="243.00" stroke="#555" stroke-width="0.8"/>
<line x1="175.70" y1="241.46" x2="178.30" y2="241.46" stroke="#3a3a3a" stroke-width="0.9"/>
<rect x="181.80" y="250.10" width="4.40" height="16.90" fill="#cdcdcd"/>
<line x1="182.10" y1="250.50" x2="185.90" y2="250.50" stroke="#7a7a7a" stroke-width="0.8"/>
<line x1="184.00" y1="248.38" x2="184.00" y2="250.10" stroke="#555" stroke-width="0.8"/>
<line x1="182.70" y1="248.38" x2="185.30" y2="248.38" stroke="#3a3a3a" stroke-width="0.9"/>
<rect x="188.80" y="226.49" width="4.40" height="40.51" fill="#d9127c"/>
<line x1="189.10" y1="226.89" x2="192.90" y2="226.89" stroke="#8c0c52" stroke-width="0.8"/>
<rect x="201.40" y="247.22" width="4.40" height="19.78" fill="#4a5466"/>
<line x1="201.70" y1="247.62" x2="205.50" y2="247.62" stroke="#2c3442" stroke-width="0.8"/>
<line x1="203.60" y1="245.88" x2="203.60" y2="247.22" stroke="#555" stroke-width="0.8"/>
<line x1="202.30" y1="245.88" x2="204.90" y2="245.88" stroke="#3a3a3a" stroke-width="0.9"/>
<rect x="208.40" y="250.68" width="4.40" height="16.32" fill="#cdcdcd"/>
<line x1="208.70" y1="251.08" x2="212.50" y2="251.08" stroke="#7a7a7a" stroke-width="0.8"/>
<line x1="210.60" y1="246.84" x2="210.60" y2="250.68" stroke="#555" stroke-width="0.8"/>
<line x1="209.30" y1="246.84" x2="211.90" y2="246.84" stroke="#3a3a3a" stroke-width="0.9"/>
<rect x="215.40" y="225.34" width="4.40" height="41.66" fill="#d9127c"/>
<line x1="215.70" y1="225.74" x2="219.50" y2="225.74" stroke="#8c0c52" stroke-width="0.8"/>
<line x1="217.60" y1="224.76" x2="217.60" y2="225.34" stroke="#555" stroke-width="0.8"/>
<line x1="216.30" y1="224.76" x2="218.90" y2="224.76" stroke="#3a3a3a" stroke-width="0.9"/>
<rect x="227.40" y="249.14" width="4.40" height="17.86" fill="#4a5466"/>
<line x1="227.70" y1="249.54" x2="231.50" y2="249.54" stroke="#2c3442" stroke-width="0.8"/>
<line x1="229.60" y1="247.22" x2="229.60" y2="249.14" stroke="#555" stroke-width="0.8"/>
<line x1="228.30" y1="247.22" x2="230.90" y2="247.22" stroke="#3a3a3a" stroke-width="0.9"/>
<rect x="234.40" y="254.52" width="4.40" height="12.48" fill="#cdcdcd"/>
<line x1="234.70" y1="254.92" x2="238.50" y2="254.92" stroke="#7a7a7a" stroke-width="0.8"/>
<line x1="236.60" y1="252.60" x2="236.60" y2="254.52" stroke="#555" stroke-width="0.8"/>
<line x1="235.30" y1="252.60" x2="237.90" y2="252.60" stroke="#3a3a3a" stroke-width="0.9"/>
<rect x="241.40" y="228.22" width="4.40" height="38.78" fill="#d9127c"/>
<line x1="241.70" y1="228.62" x2="245.50" y2="228.62" stroke="#8c0c52" stroke-width="0.8"/>
<line x1="243.60" y1="219.96" x2="243.60" y2="228.22" stroke="#555" stroke-width="0.8"/>
<line x1="242.30" y1="219.96" x2="244.90" y2="219.96" stroke="#3a3a3a" stroke-width="0.9"/>
<text x="158.00" y="278.87" font-size="6.3" text-anchor="middle" fill="#222" stroke="#222" stroke-width="0.14">0</text>
<text x="184.00" y="278.87" font-size="6.3" text-anchor="middle" fill="#222" stroke="#222" stroke-width="0.14">2</text>
<text x="211.10" y="278.87" font-size="6.3" text-anchor="middle" fill="#222" stroke="#222" stroke-width="0.14">10</text>
<text x="237.10" y="278.87" font-size="6.3" text-anchor="middle" fill="#222" stroke="#222" stroke-width="0.14">50</text>
<text x="197.70" y="290.38" font-size="8.0" text-anchor="middle" fill="#222" textLength="34.20" lengthAdjust="spacingAndGlyphs" stroke="#222" stroke-width="0.28">CXCL12 (nM)</text>
<rect x="149.70" y="300.30" width="6.30" height="3.00" fill="#4a5466"/>
<text x="159.30" y="304.32" font-size="7.0" text-anchor="start" fill="#1e1e1e" textLength="20.60" lengthAdjust="spacingAndGlyphs" stroke="#1e1e1e" stroke-width="0.14">HD-SC</text>
<rect x="186.00" y="300.30" width="6.20" height="3.00" fill="#cdcdcd"/>
<text x="195.00" y="304.32" font-size="7.0" text-anchor="start" fill="#1e1e1e" textLength="17.80" lengthAdjust="spacingAndGlyphs" stroke="#1e1e1e" stroke-width="0.14">HD-IH</text>
<rect x="219.60" y="300.30" width="6.40" height="3.00" fill="#d9127c"/>
<text x="228.70" y="304.32" font-size="7.0" text-anchor="start" fill="#1e1e1e" textLength="6.80" lengthAdjust="spacingAndGlyphs" stroke="#1e1e1e" stroke-width="0.14">P1</text>
<text x="320.00" y="191.79" font-size="8.3" text-anchor="middle" fill="#222" textLength="42.00" lengthAdjust="spacingAndGlyphs" stroke="#222" stroke-width="0.14">Chemotaxis</text>
<text x="320.00" y="202.39" font-size="8.3" text-anchor="middle" fill="#222" textLength="36.00" lengthAdjust="spacingAndGlyphs" stroke="#222" stroke-width="0.14">NKT cells</text>
<line x1="268.90" y1="207.00" x2="268.90" y2="267.50" stroke="#1e1e1e" stroke-width="1.1"/>
<line x1="268.40" y1="267.00" x2="372.00" y2="267.00" stroke="#1e1e1e" stroke-width="1.1"/>
<line x1="266.40" y1="208.80" x2="268.90" y2="208.80" stroke="#1e1e1e" stroke-width="0.9"/>
<text x="262.70" y="211.07" font-size="6.3" text-anchor="end" fill="#222" stroke="#222" stroke-width="0.14">10</text>
<line x1="266.40" y1="220.44" x2="268.90" y2="220.44" stroke="#1e1e1e" stroke-width="0.9"/>
<text x="262.70" y="222.71" font-size="6.3" text-anchor="end" fill="#222" stroke="#222" stroke-width="0.14">8</text>
<line x1="266.40" y1="232.08" x2="268.90" y2="232.08" stroke="#1e1e1e" stroke-width="0.9"/>
<text x="262.70" y="234.35" font-size="6.3" text-anchor="end" fill="#222" stroke="#222" stroke-width="0.14">6</text>
<line x1="266.40" y1="243.72" x2="268.90" y2="243.72" stroke="#1e1e1e" stroke-width="0.9"/>
<text x="262.70" y="245.99" font-size="6.3" text-anchor="end" fill="#222" stroke="#222" stroke-width="0.14">4</text>
<line x1="266.40" y1="255.36" x2="268.90" y2="255.36" stroke="#1e1e1e" stroke-width="0.9"/>
<text x="262.70" y="257.63" font-size="6.3" text-anchor="end" fill="#222" stroke="#222" stroke-width="0.14">2</text>
<line x1="266.40" y1="267.00" x2="268.90" y2="267.00" stroke="#1e1e1e" stroke-width="0.9"/>
<text x="262.70" y="269.27" font-size="6.3" text-anchor="end" fill="#222" stroke="#222" stroke-width="0.14">0</text>
<line x1="281.00" y1="267.00" x2="281.00" y2="269.20" stroke="#1e1e1e" stroke-width="0.9"/>
<line x1="307.00" y1="267.00" x2="307.00" y2="269.20" stroke="#1e1e1e" stroke-width="0.9"/>
<line x1="333.20" y1="267.00" x2="333.20" y2="269.20" stroke="#1e1e1e" stroke-width="0.9"/>
<line x1="359.30" y1="267.00" x2="359.30" y2="269.20" stroke="#1e1e1e" stroke-width="0.9"/>
<rect x="271.80" y="266.30" width="4.40" height="0.70" fill="#4a5466"/>
<line x1="272.70" y1="266.00" x2="275.30" y2="266.00" stroke="#2c3442" stroke-width="1.0"/>
<rect x="278.80" y="266.30" width="4.40" height="0.70" fill="#cdcdcd"/>
<line x1="279.70" y1="266.00" x2="282.30" y2="266.00" stroke="#7a7a7a" stroke-width="1.0"/>
<rect x="285.80" y="266.30" width="4.40" height="0.70" fill="#d9127c"/>
<line x1="286.70" y1="266.00" x2="289.30" y2="266.00" stroke="#8c0c52" stroke-width="1.0"/>
<rect x="297.80" y="262.34" width="4.40" height="4.66" fill="#4a5466"/>
<line x1="298.10" y1="262.74" x2="301.90" y2="262.74" stroke="#2c3442" stroke-width="0.8"/>
<rect x="304.80" y="255.94" width="4.40" height="11.06" fill="#cdcdcd"/>
<line x1="305.10" y1="256.34" x2="308.90" y2="256.34" stroke="#7a7a7a" stroke-width="0.8"/>
<line x1="307.00" y1="254.78" x2="307.00" y2="255.94" stroke="#555" stroke-width="0.8"/>
<line x1="305.70" y1="254.78" x2="308.30" y2="254.78" stroke="#3a3a3a" stroke-width="0.9"/>
<rect x="311.80" y="232.08" width="4.40" height="34.92" fill="#d9127c"/>
<line x1="312.10" y1="232.48" x2="315.90" y2="232.48" stroke="#8c0c52" stroke-width="0.8"/>
<line x1="314.00" y1="228.59" x2="314.00" y2="232.08" stroke="#555" stroke-width="0.8"/>
<line x1="312.70" y1="228.59" x2="315.30" y2="228.59" stroke="#3a3a3a" stroke-width="0.9"/>
<rect x="324.00" y="261.47" width="4.40" height="5.53" fill="#4a5466"/>
<line x1="324.30" y1="261.87" x2="328.10" y2="261.87" stroke="#2c3442" stroke-width="0.8"/>
<rect x="331.00" y="258.27" width="4.40" height="8.73" fill="#cdcdcd"/>
<line x1="331.30" y1="258.67" x2="335.10" y2="258.67" stroke="#7a7a7a" stroke-width="0.8"/>
<line x1="333.20" y1="254.20" x2="333.20" y2="258.27" stroke="#555" stroke-width="0.8"/>
<line x1="331.90" y1="254.20" x2="334.50" y2="254.20" stroke="#3a3a3a" stroke-width="0.9"/>
<rect x="338.00" y="219.86" width="4.40" height="47.14" fill="#d9127c"/>
<line x1="338.30" y1="220.26" x2="342.10" y2="220.26" stroke="#8c0c52" stroke-width="0.8"/>
<line x1="340.20" y1="211.71" x2="340.20" y2="219.86" stroke="#555" stroke-width="0.8"/>
<line x1="338.90" y1="211.71" x2="341.50" y2="211.71" stroke="#3a3a3a" stroke-width="0.9"/>
<rect x="350.10" y="260.02" width="4.40" height="6.98" fill="#4a5466"/>
<line x1="350.40" y1="260.42" x2="354.20" y2="260.42" stroke="#2c3442" stroke-width="0.8"/>
<line x1="352.30" y1="258.27" x2="352.30" y2="260.02" stroke="#555" stroke-width="0.8"/>
<line x1="351.00" y1="258.27" x2="353.60" y2="258.27" stroke="#3a3a3a" stroke-width="0.9"/>
<rect x="357.10" y="261.76" width="4.40" height="5.24" fill="#cdcdcd"/>
<line x1="357.40" y1="262.16" x2="361.20" y2="262.16" stroke="#7a7a7a" stroke-width="0.8"/>
<rect x="364.10" y="230.04" width="4.40" height="36.96" fill="#d9127c"/>
<line x1="364.40" y1="230.44" x2="368.20" y2="230.44" stroke="#8c0c52" stroke-width="0.8"/>
<line x1="366.30" y1="218.69" x2="366.30" y2="230.04" stroke="#555" stroke-width="0.8"/>
<line x1="365.00" y1="218.69" x2="367.60" y2="218.69" stroke="#3a3a3a" stroke-width="0.9"/>
<text x="281.00" y="278.87" font-size="6.3" text-anchor="middle" fill="#222" stroke="#222" stroke-width="0.14">0</text>
<text x="307.00" y="278.87" font-size="6.3" text-anchor="middle" fill="#222" stroke="#222" stroke-width="0.14">2</text>
<text x="333.70" y="278.87" font-size="6.3" text-anchor="middle" fill="#222" stroke="#222" stroke-width="0.14">10</text>
<text x="359.80" y="278.87" font-size="6.3" text-anchor="middle" fill="#222" stroke="#222" stroke-width="0.14">50</text>
<text x="320.80" y="290.38" font-size="8.0" text-anchor="middle" fill="#222" textLength="34.20" lengthAdjust="spacingAndGlyphs" stroke="#222" stroke-width="0.28">CXCL12 (nM)</text>
<rect x="271.00" y="300.30" width="6.40" height="3.00" fill="#4a5466"/>
<text x="280.00" y="304.32" font-size="7.0" text-anchor="start" fill="#1e1e1e" textLength="20.70" lengthAdjust="spacingAndGlyphs" stroke="#1e1e1e" stroke-width="0.14">HD-SC</text>
<rect x="306.80" y="300.30" width="6.20" height="3.00" fill="#cdcdcd"/>
<text x="315.80" y="304.32" font-size="7.0" text-anchor="start" fill="#1e1e1e" textLength="17.80" lengthAdjust="spacingAndGlyphs" stroke="#1e1e1e" stroke-width="0.14">HD-IH</text>
<rect x="340.50" y="300.30" width="6.90" height="3.00" fill="#d9127c"/>
<text x="350.00" y="304.32" font-size="7.0" text-anchor="start" fill="#1e1e1e" textLength="7.00" lengthAdjust="spacingAndGlyphs" stroke="#1e1e1e" stroke-width="0.14">P1</text>
<text x="461.50" y="191.79" font-size="8.3" text-anchor="middle" fill="#222" textLength="42.00" lengthAdjust="spacingAndGlyphs" stroke="#222" stroke-width="0.14">Chemotaxis</text>
<text x="461.50" y="202.79" font-size="8.3" text-anchor="middle" fill="#222" textLength="19.50" lengthAdjust="spacingAndGlyphs" stroke="#222" stroke-width="0.14">K562</text>
<text transform="translate(389.00,237.50) rotate(-90)" x="0" y="0" font-size="8.6" text-anchor="middle" fill="#222" textLength="48.00" lengthAdjust="spacingAndGlyphs" stroke="#222" stroke-width="0.2">Chemotactic index</text>
<line x1="408.30" y1="202.50" x2="408.30" y2="274.30" stroke="#1e1e1e" stroke-width="1.1"/>
<line x1="407.80" y1="273.80" x2="512.30" y2="273.80" stroke="#1e1e1e" stroke-width="1.1"/>
<line x1="405.80" y1="204.30" x2="408.30" y2="204.30" stroke="#1e1e1e" stroke-width="0.9"/>
<text x="403.30" y="206.57" font-size="6.3" text-anchor="end" fill="#222" stroke="#222" stroke-width="0.14">2.5</text>
<line x1="405.80" y1="218.20" x2="408.30" y2="218.20" stroke="#1e1e1e" stroke-width="0.9"/>
<text x="403.30" y="220.47" font-size="6.3" text-anchor="end" fill="#222" stroke="#222" stroke-width="0.14">2.0</text>
<line x1="405.80" y1="232.10" x2="408.30" y2="232.10" stroke="#1e1e1e" stroke-width="0.9"/>
<text x="403.30" y="234.37" font-size="6.3" text-anchor="end" fill="#222" stroke="#222" stroke-width="0.14">1.5</text>
<line x1="405.80" y1="246.00" x2="408.30" y2="246.00" stroke="#1e1e1e" stroke-width="0.9"/>
<text x="403.30" y="248.27" font-size="6.3" text-anchor="end" fill="#222" stroke="#222" stroke-width="0.14">1.0</text>
<line x1="405.80" y1="259.90" x2="408.30" y2="259.90" stroke="#1e1e1e" stroke-width="0.9"/>
<text x="403.30" y="262.17" font-size="6.3" text-anchor="end" fill="#222" stroke="#222" stroke-width="0.14">0.5</text>
<line x1="405.80" y1="273.80" x2="408.30" y2="273.80" stroke="#1e1e1e" stroke-width="0.9"/>
<text x="403.30" y="276.07" font-size="6.3" text-anchor="end" fill="#222" stroke="#222" stroke-width="0.14">0.0</text>
<line x1="420.60" y1="273.80" x2="420.60" y2="276.00" stroke="#1e1e1e" stroke-width="0.9"/>
<line x1="447.30" y1="273.80" x2="447.30" y2="276.00" stroke="#1e1e1e" stroke-width="0.9"/>
<line x1="474.20" y1="273.80" x2="474.20" y2="276.00" stroke="#1e1e1e" stroke-width="0.9"/>
<line x1="500.20" y1="273.80" x2="500.20" y2="276.00" stroke="#1e1e1e" stroke-width="0.9"/>
<rect x="410.35" y="272.97" width="3.90" height="0.83" fill="#3c9c3c"/>
<line x1="411.20" y1="272.80" x2="413.40" y2="272.80" stroke="#24602a" stroke-width="1.0"/>
<rect x="416.00" y="272.41" width="3.90" height="1.39" fill="#b8122c"/>
<line x1="416.85" y1="272.80" x2="419.05" y2="272.80" stroke="#6e0a1a" stroke-width="1.0"/>
<rect x="421.65" y="272.41" width="3.90" height="1.39" fill="#3ea8da"/>
<line x1="422.50" y1="272.80" x2="424.70" y2="272.80" stroke="#2a6e90" stroke-width="1.0"/>
<rect x="427.30" y="272.69" width="3.90" height="1.11" fill="#0f3e7a"/>
<line x1="428.15" y1="272.80" x2="430.35" y2="272.80" stroke="#0a2650" stroke-width="1.0"/>
<rect x="437.05" y="250.73" width="3.90" height="23.07" fill="#3c9c3c"/>
<line x1="437.35" y1="251.13" x2="440.65" y2="251.13" stroke="#24602a" stroke-width="0.8"/>
<rect x="442.70" y="261.85" width="3.90" height="11.95" fill="#b8122c"/>
<line x1="443.00" y1="262.25" x2="446.30" y2="262.25" stroke="#6e0a1a" stroke-width="0.8"/>
<rect x="448.35" y="244.33" width="3.90" height="29.47" fill="#3ea8da"/>
<line x1="448.65" y1="244.73" x2="451.95" y2="244.73" stroke="#2a6e90" stroke-width="0.8"/>
<line x1="450.30" y1="240.44" x2="450.30" y2="244.33" stroke="#555" stroke-width="0.8"/>
<line x1="449.20" y1="240.44" x2="451.40" y2="240.44" stroke="#3a3a3a" stroke-width="0.9"/>
<rect x="454.00" y="225.98" width="3.90" height="47.82" fill="#0f3e7a"/>
<line x1="454.30" y1="226.38" x2="457.60" y2="226.38" stroke="#0a2650" stroke-width="0.8"/>
<line x1="455.95" y1="222.37" x2="455.95" y2="225.98" stroke="#555" stroke-width="0.8"/>
<line x1="454.85" y1="222.37" x2="457.05" y2="222.37" stroke="#3a3a3a" stroke-width="0.9"/>
<rect x="463.95" y="246.00" width="3.90" height="27.80" fill="#3c9c3c"/>
<line x1="464.25" y1="246.40" x2="467.55" y2="246.40" stroke="#24602a" stroke-width="0.8"/>
<rect x="469.60" y="239.05" width="3.90" height="34.75" fill="#b8122c"/>
<line x1="469.90" y1="239.45" x2="473.20" y2="239.45" stroke="#6e0a1a" stroke-width="0.8"/>
<line x1="471.55" y1="236.27" x2="471.55" y2="239.05" stroke="#555" stroke-width="0.8"/>
<line x1="470.45" y1="236.27" x2="472.65" y2="236.27" stroke="#3a3a3a" stroke-width="0.9"/>
<rect x="475.25" y="236.27" width="3.90" height="37.53" fill="#3ea8da"/>
<line x1="475.55" y1="236.67" x2="478.85" y2="236.67" stroke="#2a6e90" stroke-width="0.8"/>
<line x1="477.20" y1="232.66" x2="477.20" y2="236.27" stroke="#555" stroke-width="0.8"/>
<line x1="476.10" y1="232.66" x2="478.30" y2="232.66" stroke="#3a3a3a" stroke-width="0.9"/>
<rect x="480.90" y="218.76" width="3.90" height="55.04" fill="#0f3e7a"/>
<line x1="481.20" y1="219.16" x2="484.50" y2="219.16" stroke="#0a2650" stroke-width="0.8"/>
<line x1="482.85" y1="215.42" x2="482.85" y2="218.76" stroke="#555" stroke-width="0.8"/>
<line x1="481.75" y1="215.42" x2="483.95" y2="215.42" stroke="#3a3a3a" stroke-width="0.9"/>
<rect x="489.95" y="256.56" width="3.90" height="17.24" fill="#3c9c3c"/>
<line x1="490.25" y1="256.96" x2="493.55" y2="256.96" stroke="#24602a" stroke-width="0.8"/>
<rect x="495.60" y="231.82" width="3.90" height="41.98" fill="#b8122c"/>
<line x1="495.90" y1="232.22" x2="499.20" y2="232.22" stroke="#6e0a1a" stroke-width="0.8"/>
<line x1="497.55" y1="228.76" x2="497.55" y2="231.82" stroke="#555" stroke-width="0.8"/>
<line x1="496.45" y1="228.76" x2="498.65" y2="228.76" stroke="#3a3a3a" stroke-width="0.9"/>
<rect x="501.25" y="255.17" width="3.90" height="18.63" fill="#3ea8da"/>
<line x1="501.55" y1="255.57" x2="504.85" y2="255.57" stroke="#2a6e90" stroke-width="0.8"/>
<line x1="503.20" y1="251.56" x2="503.20" y2="255.17" stroke="#555" stroke-width="0.8"/>
<line x1="502.10" y1="251.56" x2="504.30" y2="251.56" stroke="#3a3a3a" stroke-width="0.9"/>
<rect x="506.90" y="252.95" width="3.90" height="20.85" fill="#0f3e7a"/>
<line x1="507.20" y1="253.35" x2="510.50" y2="253.35" stroke="#0a2650" stroke-width="0.8"/>
<line x1="508.85" y1="248.78" x2="508.85" y2="252.95" stroke="#555" stroke-width="0.8"/>
<line x1="507.75" y1="248.78" x2="509.95" y2="248.78" stroke="#3a3a3a" stroke-width="0.9"/>
<text x="421.40" y="286.27" font-size="6.3" text-anchor="middle" fill="#222" stroke="#222" stroke-width="0.14">0</text>
<text x="447.50" y="286.27" font-size="6.3" text-anchor="middle" fill="#222" stroke="#222" stroke-width="0.14">0.4</text>
<text x="474.40" y="286.27" font-size="6.3" text-anchor="middle" fill="#222" stroke="#222" stroke-width="0.14">2</text>
<text x="500.40" y="286.27" font-size="6.3" text-anchor="middle" fill="#222" stroke="#222" stroke-width="0.14">10</text>
<text x="461.50" y="298.18" font-size="8.0" text-anchor="middle" fill="#222" textLength="34.20" lengthAdjust="spacingAndGlyphs" stroke="#222" stroke-width="0.28">CXCL12 (nM)</text>
<circle cx="442.35" cy="257.00" r="0.85" fill="#2a2a2a"/>
<circle cx="444.50" cy="257.00" r="0.85" fill="#2a2a2a"/>
<circle cx="446.65" cy="257.00" r="0.85" fill="#2a2a2a"/>
<circle cx="449.62" cy="237.20" r="0.85" fill="#2a2a2a"/>
<circle cx="451.77" cy="237.20" r="0.85" fill="#2a2a2a"/>
<circle cx="453.95" cy="217.80" r="0.85" fill="#2a2a2a"/>
<circle cx="456.10" cy="217.80" r="0.85" fill="#2a2a2a"/>
<circle cx="458.25" cy="217.80" r="0.85" fill="#2a2a2a"/>
<circle cx="471.00" cy="233.80" r="0.85" fill="#2a2a2a"/>
<text x="476.80" y="231.40" font-size="6.4" text-anchor="middle" fill="#555" textLength="5.80" lengthAdjust="spacingAndGlyphs" stroke="#555" stroke-width="0.1">ns</text>
<circle cx="483.00" cy="211.80" r="0.85" fill="#2a2a2a"/>
<circle cx="495.75" cy="224.20" r="0.85" fill="#2a2a2a"/>
<circle cx="497.90" cy="224.20" r="0.85" fill="#2a2a2a"/>
<circle cx="500.05" cy="224.20" r="0.85" fill="#2a2a2a"/>
<text x="503.00" y="250.60" font-size="6.4" text-anchor="middle" fill="#555" textLength="5.80" lengthAdjust="spacingAndGlyphs" stroke="#555" stroke-width="0.1">ns</text>
<text x="509.00" y="246.40" font-size="6.4" text-anchor="middle" fill="#555" textLength="5.80" lengthAdjust="spacingAndGlyphs" stroke="#555" stroke-width="0.1">ns</text>
<rect x="409.60" y="307.50" width="6.90" height="3.00" fill="#3c9c3c"/>
<text x="419.30" y="311.52" font-size="7.0" text-anchor="start" fill="#1e1e1e" textLength="10.10" lengthAdjust="spacingAndGlyphs" stroke="#1e1e1e" stroke-width="0.14">WT</text>
<rect x="447.30" y="307.50" width="6.70" height="3.00" fill="#3ea8da"/>
<text x="457.40" y="311.52" font-size="7.0" text-anchor="start" fill="#1e1e1e" textLength="24.20" lengthAdjust="spacingAndGlyphs" stroke="#1e1e1e" stroke-width="0.14">p.R334X</text>
<rect x="409.60" y="316.10" width="6.90" height="3.00" fill="#b8122c"/>
<text x="419.30" y="320.12" font-size="7.0" text-anchor="start" fill="#1e1e1e" textLength="21.00" lengthAdjust="spacingAndGlyphs" stroke="#1e1e1e" stroke-width="0.14">p.D84H</text>
<rect x="447.30" y="316.10" width="6.70" height="3.00" fill="#0f3e7a"/>
<text x="457.40" y="320.12" font-size="7.0" text-anchor="start" fill="#1e1e1e" textLength="24.20" lengthAdjust="spacingAndGlyphs" stroke="#1e1e1e" stroke-width="0.14">p.E343K</text>
<text x="113.2" y="356.8" font-size="8.4" fill="#222">Ca<tspan font-size="6.2" dy="-3.4">2+</tspan></text><text x="133.7" y="356.8" font-size="8.4" fill="#222" textLength="42.4" lengthAdjust="spacingAndGlyphs">mobilization</text>
<text transform="translate(80.70,391.60) rotate(-90)" x="0" y="0" font-size="8.6" text-anchor="middle" fill="#222" textLength="39.30" lengthAdjust="spacingAndGlyphs" stroke="#222" stroke-width="0.18">max-min (RFU)</text>
<line x1="103.50" y1="363.50" x2="103.50" y2="421.10" stroke="#1e1e1e" stroke-width="1.1"/>
<line x1="103.00" y1="420.60" x2="186.50" y2="420.60" stroke="#1e1e1e" stroke-width="1.1"/>
<line x1="101.00" y1="365.30" x2="103.50" y2="365.30" stroke="#1e1e1e" stroke-width="0.9"/>
<text x="97.70" y="367.57" font-size="6.3" text-anchor="end" fill="#222" stroke="#222" stroke-width="0.14">250</text>
<line x1="101.00" y1="376.36" x2="103.50" y2="376.36" stroke="#1e1e1e" stroke-width="0.9"/>
<text x="97.70" y="378.63" font-size="6.3" text-anchor="end" fill="#222" stroke="#222" stroke-width="0.14">200</text>
<line x1="101.00" y1="387.42" x2="103.50" y2="387.42" stroke="#1e1e1e" stroke-width="0.9"/>
<text x="97.70" y="389.69" font-size="6.3" text-anchor="end" fill="#222" stroke="#222" stroke-width="0.14">150</text>
<line x1="101.00" y1="398.48" x2="103.50" y2="398.48" stroke="#1e1e1e" stroke-width="0.9"/>
<text x="97.70" y="400.75" font-size="6.3" text-anchor="end" fill="#222" stroke="#222" stroke-width="0.14">100</text>
<line x1="101.00" y1="409.54" x2="103.50" y2="409.54" stroke="#1e1e1e" stroke-width="0.9"/>
<text x="97.70" y="411.81" font-size="6.3" text-anchor="end" fill="#222" stroke="#222" stroke-width="0.14">50</text>
<line x1="101.00" y1="420.60" x2="103.50" y2="420.60" stroke="#1e1e1e" stroke-width="0.9"/>
<text x="97.70" y="422.87" font-size="6.3" text-anchor="end" fill="#222" stroke="#222" stroke-width="0.14">0</text>
<line x1="117.00" y1="420.60" x2="117.00" y2="422.80" stroke="#1e1e1e" stroke-width="0.9"/>
<line x1="144.80" y1="420.60" x2="144.80" y2="422.80" stroke="#1e1e1e" stroke-width="0.9"/>
<line x1="172.50" y1="420.60" x2="172.50" y2="422.80" stroke="#1e1e1e" stroke-width="0.9"/>
<rect x="106.05" y="418.39" width="4.90" height="2.21" fill="#4a5466"/>
<line x1="106.35" y1="418.79" x2="110.65" y2="418.79" stroke="#2c3442" stroke-width="0.8"/>
<rect x="113.65" y="419.05" width="4.90" height="1.55" fill="#cdcdcd"/>
<line x1="114.80" y1="419.60" x2="117.40" y2="419.60" stroke="#7a7a7a" stroke-width="1.0"/>
<rect x="121.45" y="419.94" width="4.90" height="0.66" fill="#d9127c"/>
<line x1="122.60" y1="419.60" x2="125.20" y2="419.60" stroke="#8c0c52" stroke-width="1.0"/>
<rect x="134.90" y="396.05" width="4.90" height="24.55" fill="#4a5466"/>
<line x1="135.20" y1="396.45" x2="139.50" y2="396.45" stroke="#2c3442" stroke-width="0.8"/>
<rect x="142.50" y="370.39" width="4.90" height="50.21" fill="#cdcdcd"/>
<line x1="142.80" y1="370.79" x2="147.10" y2="370.79" stroke="#7a7a7a" stroke-width="0.8"/>
<line x1="144.95" y1="369.28" x2="144.95" y2="370.39" stroke="#555" stroke-width="0.8"/>
<line x1="143.65" y1="369.28" x2="146.25" y2="369.28" stroke="#3a3a3a" stroke-width="0.9"/>
<rect x="150.30" y="417.72" width="4.90" height="2.88" fill="#d9127c"/>
<line x1="150.60" y1="418.12" x2="154.90" y2="418.12" stroke="#8c0c52" stroke-width="0.8"/>
<rect x="163.25" y="392.95" width="4.90" height="27.65" fill="#4a5466"/>
<line x1="163.55" y1="393.35" x2="167.85" y2="393.35" stroke="#2c3442" stroke-width="0.8"/>
<rect x="170.85" y="371.71" width="4.90" height="48.89" fill="#cdcdcd"/>
<line x1="171.15" y1="372.11" x2="175.45" y2="372.11" stroke="#7a7a7a" stroke-width="0.8"/>
<line x1="173.30" y1="369.50" x2="173.30" y2="371.71" stroke="#555" stroke-width="0.8"/>
<line x1="172.00" y1="369.50" x2="174.60" y2="369.50" stroke="#3a3a3a" stroke-width="0.9"/>
<rect x="178.65" y="417.72" width="4.90" height="2.88" fill="#d9127c"/>
<line x1="178.95" y1="418.12" x2="183.25" y2="418.12" stroke="#8c0c52" stroke-width="0.8"/>
<text x="117.00" y="432.27" font-size="6.3" text-anchor="middle" fill="#222" stroke="#222" stroke-width="0.14">0 nM</text>
<text x="144.80" y="432.27" font-size="6.3" text-anchor="middle" fill="#222" stroke="#222" stroke-width="0.14">100 nM</text>
<text x="172.50" y="432.27" font-size="6.3" text-anchor="middle" fill="#222" stroke="#222" stroke-width="0.14">1µM</text>
<rect x="199.00" y="367.20" width="7.00" height="3.00" fill="#4a5466"/>
<text x="208.80" y="371.15" font-size="6.8" text-anchor="start" fill="#222" textLength="20.20" lengthAdjust="spacingAndGlyphs" stroke="#222" stroke-width="0.14">HD-SC</text>
<rect x="199.00" y="375.80" width="7.00" height="3.00" fill="#cdcdcd"/>
<text x="208.80" y="379.75" font-size="6.8" text-anchor="start" fill="#222" textLength="17.40" lengthAdjust="spacingAndGlyphs" stroke="#222" stroke-width="0.14">HD-IH</text>
<rect x="199.00" y="383.90" width="7.00" height="3.00" fill="#d9127c"/>
<text x="208.80" y="387.85" font-size="6.8" text-anchor="start" fill="#222" textLength="6.40" lengthAdjust="spacingAndGlyphs" stroke="#222" stroke-width="0.14">P1</text>
<text x="269.6" y="356.8" font-size="8.4" fill="#222">Ca<tspan font-size="6.2" dy="-3.4">2+</tspan></text><text x="290.4" y="356.8" font-size="8.4" fill="#222" textLength="41.9" lengthAdjust="spacingAndGlyphs">mobilization</text>
<text transform="translate(251.50,391.40) rotate(-90)" x="0" y="0" font-size="8.6" text-anchor="middle" fill="#222" textLength="34.40" lengthAdjust="spacingAndGlyphs" stroke="#222" stroke-width="0.18">Emax (%WT)</text>
<line x1="274.50" y1="363.70" x2="274.50" y2="420.70" stroke="#1e1e1e" stroke-width="1.1"/>
<line x1="274.00" y1="420.20" x2="327.70" y2="420.20" stroke="#1e1e1e" stroke-width="1.1"/>
<line x1="272.00" y1="365.50" x2="274.50" y2="365.50" stroke="#1e1e1e" stroke-width="0.9"/>
<text x="269.60" y="367.77" font-size="6.3" text-anchor="end" fill="#222" stroke="#222" stroke-width="0.14">140</text>
<line x1="272.00" y1="373.31" x2="274.50" y2="373.31" stroke="#1e1e1e" stroke-width="0.9"/>
<text x="269.60" y="375.58" font-size="6.3" text-anchor="end" fill="#222" stroke="#222" stroke-width="0.14">120</text>
<line x1="272.00" y1="381.13" x2="274.50" y2="381.13" stroke="#1e1e1e" stroke-width="0.9"/>
<text x="269.60" y="383.40" font-size="6.3" text-anchor="end" fill="#222" stroke="#222" stroke-width="0.14">100</text>
<line x1="272.00" y1="388.94" x2="274.50" y2="388.94" stroke="#1e1e1e" stroke-width="0.9"/>
<text x="269.60" y="391.21" font-size="6.3" text-anchor="end" fill="#222" stroke="#222" stroke-width="0.14">80</text>
<line x1="272.00" y1="396.76" x2="274.50" y2="396.76" stroke="#1e1e1e" stroke-width="0.9"/>
<text x="269.60" y="399.03" font-size="6.3" text-anchor="end" fill="#222" stroke="#222" stroke-width="0.14">60</text>
<line x1="272.00" y1="404.57" x2="274.50" y2="404.57" stroke="#1e1e1e" stroke-width="0.9"/>
<text x="269.60" y="406.84" font-size="6.3" text-anchor="end" fill="#222" stroke="#222" stroke-width="0.14">40</text>
<line x1="272.00" y1="412.39" x2="274.50" y2="412.39" stroke="#1e1e1e" stroke-width="0.9"/>
<text x="269.60" y="414.65" font-size="6.3" text-anchor="end" fill="#222" stroke="#222" stroke-width="0.14">20</text>
<line x1="272.00" y1="420.20" x2="274.50" y2="420.20" stroke="#1e1e1e" stroke-width="0.9"/>
<text x="269.60" y="422.47" font-size="6.3" text-anchor="end" fill="#222" stroke="#222" stroke-width="0.14">0</text>
<line x1="274.50" y1="420.20" x2="274.50" y2="422.40" stroke="#1e1e1e" stroke-width="0.9"/>
<line x1="284.50" y1="420.20" x2="284.50" y2="422.40" stroke="#1e1e1e" stroke-width="0.9"/>
<line x1="294.50" y1="420.20" x2="294.50" y2="422.40" stroke="#1e1e1e" stroke-width="0.9"/>
<line x1="304.50" y1="420.20" x2="304.50" y2="422.40" stroke="#1e1e1e" stroke-width="0.9"/>
<line x1="314.50" y1="420.20" x2="314.50" y2="422.40" stroke="#1e1e1e" stroke-width="0.9"/>
<line x1="324.50" y1="420.20" x2="324.50" y2="422.40" stroke="#1e1e1e" stroke-width="0.9"/>
<text transform="translate(276.70,429.60) rotate(-45)" x="0" y="0" font-size="6.3" text-anchor="end" fill="#222" stroke="#222" stroke-width="0.12">−11</text>
<text transform="translate(286.70,429.60) rotate(-45)" x="0" y="0" font-size="6.3" text-anchor="end" fill="#222" stroke="#222" stroke-width="0.12">−10</text>
<text transform="translate(296.70,429.60) rotate(-45)" x="0" y="0" font-size="6.3" text-anchor="end" fill="#222" stroke="#222" stroke-width="0.12">−9</text>
<text transform="translate(306.70,429.60) rotate(-45)" x="0" y="0" font-size="6.3" text-anchor="end" fill="#222" stroke="#222" stroke-width="0.12">−8</text>
<text transform="translate(316.70,429.60) rotate(-45)" x="0" y="0" font-size="6.3" text-anchor="end" fill="#222" stroke="#222" stroke-width="0.12">−7</text>
<text transform="translate(326.70,429.60) rotate(-45)" x="0" y="0" font-size="6.3" text-anchor="end" fill="#222" stroke="#222" stroke-width="0.12">−6</text>
<text x="300.60" y="448.28" font-size="8.0" text-anchor="middle" fill="#222" textLength="41.20" lengthAdjust="spacingAndGlyphs" stroke="#222" stroke-width="0.25">CXCL12 (log M)</text>
<polyline points="274.50,418.49 275.33,418.45 276.17,418.40 277.00,418.34 277.83,418.26 278.67,418.16 279.50,418.03 280.33,417.88 281.17,417.68 282.00,417.44 282.83,417.13 283.67,416.76 284.50,416.29 285.33,415.72 286.17,415.03 287.00,414.19 287.83,413.19 288.67,412.01 289.50,410.64 290.33,409.07 291.17,407.32 292.00,405.40 292.83,403.35 293.67,401.21 294.50,399.04 295.33,396.90 296.17,394.84 297.00,392.91 297.83,391.15 298.67,389.58 299.50,388.20 300.33,387.01 301.17,386.00 302.00,385.16 302.83,384.46 303.67,383.88 304.50,383.42 305.33,383.04 306.17,382.73 307.00,382.48 307.83,382.29 308.67,382.13 309.50,382.00 310.33,381.90 311.17,381.82 312.00,381.76 312.83,381.71 313.67,381.67 314.50,381.64 315.33,381.61 316.17,381.59 317.00,381.58 317.83,381.57 318.67,381.56 319.50,381.55 320.33,381.54 321.17,381.54 322.00,381.53 322.83,381.53 323.67,381.53 324.50,381.53" fill="none" stroke="#3c9c3c" stroke-width="0.85" stroke-opacity="0.85"/>
<circle cx="284.50" cy="416.29" r="1.3" fill="#24602a"/>
<circle cx="294.50" cy="399.10" r="1.3" fill="#24602a"/>
<circle cx="304.50" cy="383.86" r="1.3" fill="#24602a"/>
<circle cx="314.50" cy="382.30" r="1.3" fill="#24602a"/>
<circle cx="324.50" cy="381.13" r="1.3" fill="#24602a"/>
<polyline points="274.50,419.01 275.33,419.01 276.17,419.00 277.00,418.99 277.83,418.98 278.67,418.97 279.50,418.95 280.33,418.93 281.17,418.91 282.00,418.87 282.83,418.83 283.67,418.77 284.50,418.70 285.33,418.61 286.17,418.50 287.00,418.36 287.83,418.18 288.67,417.95 289.50,417.68 290.33,417.33 291.17,416.92 292.00,416.42 292.83,415.82 293.67,415.13 294.50,414.34 295.33,413.46 296.17,412.51 297.00,411.50 297.83,410.46 298.67,409.43 299.50,408.43 300.33,407.50 301.17,406.65 302.00,405.89 302.83,405.23 303.67,404.67 304.50,404.20 305.33,403.80 306.17,403.48 307.00,403.22 307.83,403.02 308.67,402.85 309.50,402.72 310.33,402.61 311.17,402.53 312.00,402.46 312.83,402.41 313.67,402.37 314.50,402.34 315.33,402.32 316.17,402.30 317.00,402.28 317.83,402.27 318.67,402.26 319.50,402.25 320.33,402.25 321.17,402.24 322.00,402.24 322.83,402.24 323.67,402.23 324.50,402.23" fill="none" stroke="#b8122c" stroke-width="0.85" stroke-opacity="0.85"/>
<circle cx="284.50" cy="418.64" r="1.3" fill="#6e0a1a"/>
<line x1="284.50" y1="416.68" x2="284.50" y2="420.59" stroke="#b8122c" stroke-width="0.8"/>
<line x1="283.20" y1="416.68" x2="285.80" y2="416.68" stroke="#b8122c" stroke-width="0.8"/>
<line x1="283.20" y1="420.59" x2="285.80" y2="420.59" stroke="#b8122c" stroke-width="0.8"/>
<circle cx="294.50" cy="414.34" r="1.3" fill="#6e0a1a"/>
<line x1="294.50" y1="412.39" x2="294.50" y2="416.29" stroke="#b8122c" stroke-width="0.8"/>
<line x1="293.20" y1="412.39" x2="295.80" y2="412.39" stroke="#b8122c" stroke-width="0.8"/>
<line x1="293.20" y1="416.29" x2="295.80" y2="416.29" stroke="#b8122c" stroke-width="0.8"/>
<circle cx="304.50" cy="404.18" r="1.3" fill="#6e0a1a"/>
<line x1="304.50" y1="402.23" x2="304.50" y2="406.13" stroke="#b8122c" stroke-width="0.8"/>
<line x1="303.20" y1="402.23" x2="305.80" y2="402.23" stroke="#b8122c" stroke-width="0.8"/>
<line x1="303.20" y1="406.13" x2="305.80" y2="406.13" stroke="#b8122c" stroke-width="0.8"/>
<circle cx="314.50" cy="403.01" r="1.3" fill="#6e0a1a"/>
<line x1="314.50" y1="401.06" x2="314.50" y2="404.96" stroke="#b8122c" stroke-width="0.8"/>
<line x1="313.20" y1="401.06" x2="315.80" y2="401.06" stroke="#b8122c" stroke-width="0.8"/>
<line x1="313.20" y1="404.96" x2="315.80" y2="404.96" stroke="#b8122c" stroke-width="0.8"/>
<circle cx="324.50" cy="402.62" r="1.3" fill="#6e0a1a"/>
<line x1="324.50" y1="400.66" x2="324.50" y2="404.57" stroke="#b8122c" stroke-width="0.8"/>
<line x1="323.20" y1="400.66" x2="325.80" y2="400.66" stroke="#b8122c" stroke-width="0.8"/>
<line x1="323.20" y1="404.57" x2="325.80" y2="404.57" stroke="#b8122c" stroke-width="0.8"/>
<polyline points="274.50,418.39 275.33,418.32 276.17,418.24 277.00,418.13 277.83,417.99 278.67,417.82 279.50,417.61 280.33,417.34 281.17,417.01 282.00,416.59 282.83,416.08 283.67,415.44 284.50,414.66 285.33,413.72 286.17,412.58 287.00,411.24 287.83,409.67 288.67,407.86 289.50,405.83 290.33,403.59 291.17,401.19 292.00,398.68 292.83,396.13 293.67,393.60 294.50,391.17 295.33,388.90 296.17,386.83 297.00,384.97 297.83,383.35 298.67,381.96 299.50,380.79 300.33,379.81 301.17,379.00 302.00,378.33 302.83,377.80 303.67,377.36 304.50,377.01 305.33,376.73 306.17,376.51 307.00,376.33 307.83,376.19 308.67,376.08 309.50,375.99 310.33,375.92 311.17,375.87 312.00,375.82 312.83,375.79 313.67,375.76 314.50,375.74 315.33,375.72 316.17,375.71 317.00,375.70 317.83,375.69 318.67,375.68 319.50,375.68 320.33,375.67 321.17,375.67 322.00,375.67 322.83,375.67 323.67,375.66 324.50,375.66" fill="none" stroke="#3ea8da" stroke-width="0.85" stroke-opacity="0.85"/>
<circle cx="284.50" cy="414.73" r="1.3" fill="#2a6e90"/>
<circle cx="294.50" cy="391.29" r="1.3" fill="#2a6e90"/>
<circle cx="304.50" cy="374.88" r="1.3" fill="#2a6e90"/>
<circle cx="314.50" cy="375.66" r="1.3" fill="#2a6e90"/>
<circle cx="324.50" cy="375.66" r="1.3" fill="#2a6e90"/>
<polyline points="274.50,417.71 275.33,417.52 276.17,417.29 277.00,417.01 277.83,416.68 278.67,416.29 279.50,415.83 280.33,415.28 281.17,414.64 282.00,413.89 282.83,413.01 283.67,412.00 284.50,410.85 285.33,409.55 286.17,408.10 287.00,406.49 287.83,404.74 288.67,402.87 289.50,400.90 290.33,398.86 291.17,396.79 292.00,394.71 292.83,392.68 293.67,390.72 294.50,388.87 295.33,387.15 296.17,385.57 297.00,384.14 297.83,382.86 298.67,381.73 299.50,380.74 300.33,379.89 301.17,379.16 302.00,378.53 302.83,377.99 303.67,377.54 304.50,377.16 305.33,376.84 306.17,376.58 307.00,376.35 307.83,376.17 308.67,376.01 309.50,375.89 310.33,375.78 311.17,375.69 312.00,375.62 312.83,375.56 313.67,375.51 314.50,375.47 315.33,375.43 316.17,375.40 317.00,375.38 317.83,375.36 318.67,375.34 319.50,375.33 320.33,375.32 321.17,375.31 322.00,375.30 322.83,375.30 323.67,375.29 324.50,375.29" fill="none" stroke="#0f3e7a" stroke-width="0.85" stroke-opacity="0.85"/>
<circle cx="284.50" cy="410.82" r="1.3" fill="#0a2650"/>
<circle cx="294.50" cy="388.94" r="1.3" fill="#0a2650"/>
<circle cx="304.50" cy="374.88" r="1.3" fill="#0a2650"/>
<circle cx="314.50" cy="375.66" r="1.3" fill="#0a2650"/>
<circle cx="324.50" cy="375.27" r="1.3" fill="#0a2650"/>
<line x1="337.50" y1="367.10" x2="343.30" y2="367.10" stroke="#3c9c3c" stroke-width="0.9"/>
<circle cx="340.4" cy="367.10" r="1.2" fill="#3c9c3c"/>
<text x="346.40" y="369.40" font-size="6.4" text-anchor="start" fill="#222" textLength="10.00" lengthAdjust="spacingAndGlyphs" stroke="#222" stroke-width="0.14">WT</text>
<line x1="337.50" y1="375.60" x2="343.30" y2="375.60" stroke="#b8122c" stroke-width="0.9"/>
<circle cx="340.4" cy="375.60" r="1.2" fill="#b8122c"/>
<text x="346.40" y="377.90" font-size="6.4" text-anchor="start" fill="#222" textLength="22.00" lengthAdjust="spacingAndGlyphs" stroke="#222" stroke-width="0.14">p.D84H</text>
<line x1="337.50" y1="384.40" x2="343.30" y2="384.40" stroke="#3ea8da" stroke-width="0.9"/>
<circle cx="340.4" cy="384.40" r="1.2" fill="#3ea8da"/>
<text x="346.40" y="386.70" font-size="6.4" text-anchor="start" fill="#222" textLength="24.50" lengthAdjust="spacingAndGlyphs" stroke="#222" stroke-width="0.14">p.R334X</text>
<line x1="337.50" y1="392.80" x2="343.30" y2="392.80" stroke="#0f3e7a" stroke-width="0.9"/>
<circle cx="340.4" cy="392.80" r="1.2" fill="#0f3e7a"/>
<text x="346.40" y="395.10" font-size="6.4" text-anchor="start" fill="#222" textLength="24.50" lengthAdjust="spacingAndGlyphs" stroke="#222" stroke-width="0.14">p.E343K</text>
<text x="431.20" y="358.32" font-size="8.4" text-anchor="middle" fill="#222" textLength="20.80" lengthAdjust="spacingAndGlyphs" stroke="#222" stroke-width="0.14">cAMP</text>
<text transform="translate(394.64,391.9) rotate(-90) scale(0.775,1)" x="0" y="0" font-size="9" text-anchor="middle" fill="#222" stroke="#222" stroke-width="0.15">cAMP<tspan font-size="6.5">inhibition</tspan> (%)</text>
<line x1="415.20" y1="363.70" x2="415.20" y2="421.30" stroke="#1e1e1e" stroke-width="1.1"/>
<line x1="414.70" y1="420.80" x2="447.30" y2="420.80" stroke="#1e1e1e" stroke-width="1.1"/>
<line x1="412.70" y1="365.50" x2="415.20" y2="365.50" stroke="#1e1e1e" stroke-width="0.9"/>
<text x="409.60" y="367.77" font-size="6.3" text-anchor="end" fill="#222" stroke="#222" stroke-width="0.14">100</text>
<line x1="412.70" y1="376.56" x2="415.20" y2="376.56" stroke="#1e1e1e" stroke-width="0.9"/>
<text x="409.60" y="378.83" font-size="6.3" text-anchor="end" fill="#222" stroke="#222" stroke-width="0.14">80</text>
<line x1="412.70" y1="387.62" x2="415.20" y2="387.62" stroke="#1e1e1e" stroke-width="0.9"/>
<text x="409.60" y="389.89" font-size="6.3" text-anchor="end" fill="#222" stroke="#222" stroke-width="0.14">60</text>
<line x1="412.70" y1="398.68" x2="415.20" y2="398.68" stroke="#1e1e1e" stroke-width="0.9"/>
<text x="409.60" y="400.95" font-size="6.3" text-anchor="end" fill="#222" stroke="#222" stroke-width="0.14">40</text>
<line x1="412.70" y1="409.74" x2="415.20" y2="409.74" stroke="#1e1e1e" stroke-width="0.9"/>
<text x="409.60" y="412.01" font-size="6.3" text-anchor="end" fill="#222" stroke="#222" stroke-width="0.14">20</text>
<line x1="412.70" y1="420.80" x2="415.20" y2="420.80" stroke="#1e1e1e" stroke-width="0.9"/>
<text x="409.60" y="423.07" font-size="6.3" text-anchor="end" fill="#222" stroke="#222" stroke-width="0.14">0</text>
<rect x="417.60" y="405.87" width="4.40" height="14.93" fill="#3c9c3c"/>
<line x1="417.90" y1="406.27" x2="421.70" y2="406.27" stroke="#24602a" stroke-width="0.8"/>
<line x1="419.80" y1="404.76" x2="419.80" y2="405.87" stroke="#555" stroke-width="0.8"/>
<line x1="418.60" y1="404.76" x2="421.00" y2="404.76" stroke="#3a3a3a" stroke-width="0.9"/>
<rect x="424.80" y="416.38" width="4.40" height="4.42" fill="#b8122c"/>
<line x1="425.10" y1="416.78" x2="428.90" y2="416.78" stroke="#6e0a1a" stroke-width="0.8"/>
<line x1="427.00" y1="415.27" x2="427.00" y2="416.38" stroke="#555" stroke-width="0.8"/>
<line x1="425.80" y1="415.27" x2="428.20" y2="415.27" stroke="#3a3a3a" stroke-width="0.9"/>
<rect x="431.90" y="393.15" width="4.40" height="27.65" fill="#3ea8da"/>
<line x1="432.20" y1="393.55" x2="436.00" y2="393.55" stroke="#2a6e90" stroke-width="0.8"/>
<line x1="434.10" y1="391.49" x2="434.10" y2="393.15" stroke="#555" stroke-width="0.8"/>
<line x1="432.90" y1="391.49" x2="435.30" y2="391.49" stroke="#3a3a3a" stroke-width="0.9"/>
<rect x="439.20" y="402.00" width="4.40" height="18.80" fill="#0f3e7a"/>
<line x1="439.50" y1="402.40" x2="443.30" y2="402.40" stroke="#0a2650" stroke-width="0.8"/>
<line x1="441.40" y1="400.34" x2="441.40" y2="402.00" stroke="#555" stroke-width="0.8"/>
<line x1="440.20" y1="400.34" x2="442.60" y2="400.34" stroke="#3a3a3a" stroke-width="0.9"/>
<circle cx="424.85" cy="411.50" r="0.85" fill="#2a2a2a"/>
<circle cx="427.00" cy="411.50" r="0.85" fill="#2a2a2a"/>
<circle cx="429.15" cy="411.50" r="0.85" fill="#2a2a2a"/>
<circle cx="431.95" cy="387.60" r="0.85" fill="#2a2a2a"/>
<circle cx="434.10" cy="387.60" r="0.85" fill="#2a2a2a"/>
<circle cx="436.25" cy="387.60" r="0.85" fill="#2a2a2a"/>
<circle cx="441.40" cy="397.40" r="0.85" fill="#2a2a2a"/>
<text transform="translate(422.08,426.90) rotate(-90)" x="0" y="0" font-size="6.6" text-anchor="end" fill="#222" textLength="9.60" lengthAdjust="spacingAndGlyphs" stroke="#222" stroke-width="0.14">WT</text>
<text transform="translate(428.98,426.90) rotate(-90)" x="0" y="0" font-size="6.6" text-anchor="end" fill="#222" textLength="21.10" lengthAdjust="spacingAndGlyphs" stroke="#222" stroke-width="0.14">p.D84H</text>
<text transform="translate(436.78,426.90) rotate(-90)" x="0" y="0" font-size="6.6" text-anchor="end" fill="#222" textLength="23.90" lengthAdjust="spacingAndGlyphs" stroke="#222" stroke-width="0.14">p.R334X</text>
<text transform="translate(443.78,426.90) rotate(-90)" x="0" y="0" font-size="6.6" text-anchor="end" fill="#222" textLength="23.50" lengthAdjust="spacingAndGlyphs" stroke="#222" stroke-width="0.14">p.E343K</text>
<line x1="419.80" y1="420.80" x2="419.80" y2="423.20" stroke="#1e1e1e" stroke-width="0.9"/>
<line x1="427.00" y1="420.80" x2="427.00" y2="423.20" stroke="#1e1e1e" stroke-width="0.9"/>
<line x1="434.10" y1="420.80" x2="434.10" y2="423.20" stroke="#1e1e1e" stroke-width="0.9"/>
<line x1="441.40" y1="420.80" x2="441.40" y2="423.20" stroke="#1e1e1e" stroke-width="0.9"/>
<text x="133.00" y="481.52" font-size="7.0" text-anchor="middle" fill="#222" stroke="#222" stroke-width="0.14">WBC</text>
<text transform="translate(84.95,518.0) rotate(-90)" x="0" y="0" font-size="8.2" font-weight="bold" text-anchor="middle" fill="#222" stroke="#222" stroke-width="0.1" textLength="34.3" lengthAdjust="spacingAndGlyphs">WBC (10<tspan font-size="5.2" dy="-2.8">9</tspan><tspan dy="2.8">/L)</tspan></text>
<line x1="103.80" y1="486.80" x2="103.80" y2="551.50" stroke="#1e1e1e" stroke-width="1.1"/>
<line x1="103.30" y1="551.00" x2="161.50" y2="551.00" stroke="#1e1e1e" stroke-width="1.1"/>
<line x1="101.30" y1="488.10" x2="103.80" y2="488.10" stroke="#1e1e1e" stroke-width="0.9"/>
<text x="99.00" y="490.22" font-size="5.9" text-anchor="end" fill="#222" stroke="#222" stroke-width="0.14">10</text>
<line x1="101.30" y1="500.68" x2="103.80" y2="500.68" stroke="#1e1e1e" stroke-width="0.9"/>
<text x="99.00" y="502.80" font-size="5.9" text-anchor="end" fill="#222" stroke="#222" stroke-width="0.14">8</text>
<line x1="101.30" y1="513.26" x2="103.80" y2="513.26" stroke="#1e1e1e" stroke-width="0.9"/>
<text x="99.00" y="515.38" font-size="5.9" text-anchor="end" fill="#222" stroke="#222" stroke-width="0.14">6</text>
<line x1="101.30" y1="525.84" x2="103.80" y2="525.84" stroke="#1e1e1e" stroke-width="0.9"/>
<text x="99.00" y="527.96" font-size="5.9" text-anchor="end" fill="#222" stroke="#222" stroke-width="0.14">4</text>
<line x1="101.30" y1="538.42" x2="103.80" y2="538.42" stroke="#1e1e1e" stroke-width="0.9"/>
<text x="99.00" y="540.54" font-size="5.9" text-anchor="end" fill="#222" stroke="#222" stroke-width="0.14">2</text>
<line x1="101.30" y1="551.00" x2="103.80" y2="551.00" stroke="#1e1e1e" stroke-width="0.9"/>
<text x="99.00" y="553.12" font-size="5.9" text-anchor="end" fill="#222" stroke="#222" stroke-width="0.14">0</text>
<line x1="103.80" y1="551.00" x2="103.80" y2="553.20" stroke="#1e1e1e" stroke-width="0.9"/>
<line x1="110.63" y1="551.00" x2="110.63" y2="553.20" stroke="#1e1e1e" stroke-width="0.9"/>
<line x1="117.46" y1="551.00" x2="117.46" y2="553.20" stroke="#1e1e1e" stroke-width="0.9"/>
<line x1="124.29" y1="551.00" x2="124.29" y2="553.20" stroke="#1e1e1e" stroke-width="0.9"/>
<line x1="131.12" y1="551.00" x2="131.12" y2="553.20" stroke="#1e1e1e" stroke-width="0.9"/>
<line x1="137.95" y1="551.00" x2="137.95" y2="553.20" stroke="#1e1e1e" stroke-width="0.9"/>
<line x1="144.78" y1="551.00" x2="144.78" y2="553.20" stroke="#1e1e1e" stroke-width="0.9"/>
<line x1="151.61" y1="551.00" x2="151.61" y2="553.20" stroke="#1e1e1e" stroke-width="0.9"/>
<line x1="158.44" y1="551.00" x2="158.44" y2="553.20" stroke="#1e1e1e" stroke-width="0.9"/>
<text x="103.80" y="562.61" font-size="6.7" text-anchor="middle" fill="#222" stroke="#222" stroke-width="0.14">0</text>
<text x="110.63" y="562.61" font-size="6.7" text-anchor="middle" fill="#222" stroke="#222" stroke-width="0.14">1</text>
<text x="117.46" y="562.61" font-size="6.7" text-anchor="middle" fill="#222" stroke="#222" stroke-width="0.14">2</text>
<text x="124.29" y="562.61" font-size="6.7" text-anchor="middle" fill="#222" stroke="#222" stroke-width="0.14">3</text>
<text x="131.12" y="562.61" font-size="6.7" text-anchor="middle" fill="#222" stroke="#222" stroke-width="0.14">4</text>
<text x="137.95" y="562.61" font-size="6.7" text-anchor="middle" fill="#222" stroke="#222" stroke-width="0.14">5</text>
<text x="144.78" y="562.61" font-size="6.7" text-anchor="middle" fill="#222" stroke="#222" stroke-width="0.14">6</text>
<text x="151.61" y="562.61" font-size="6.7" text-anchor="middle" fill="#222" stroke="#222" stroke-width="0.14">7</text>
<text x="158.44" y="562.61" font-size="6.7" text-anchor="middle" fill="#222" stroke="#222" stroke-width="0.14">8</text>
<text x="133.00" y="574.58" font-size="9.4" text-anchor="middle" fill="#222" textLength="14.80" lengthAdjust="spacingAndGlyphs" stroke="#222" stroke-width="0.3">Hours</text>
<polyline points="103.80,532.13 110.63,531.82 117.46,523.95 124.29,520.18 131.12,527.10 144.78,529.61 158.44,530.24" fill="none" stroke="#f5bd55" stroke-width="1.0"/>
<rect x="102.65" y="530.98" width="2.30" height="2.30" fill="#b88a30"/>
<rect x="109.48" y="530.67" width="2.30" height="2.30" fill="#b88a30"/>
<rect x="116.31" y="522.80" width="2.30" height="2.30" fill="#b88a30"/>
<rect x="123.14" y="519.03" width="2.30" height="2.30" fill="#b88a30"/>
<rect x="129.97" y="525.95" width="2.30" height="2.30" fill="#b88a30"/>
<rect x="143.63" y="528.46" width="2.30" height="2.30" fill="#b88a30"/>
<rect x="157.29" y="529.09" width="2.30" height="2.30" fill="#b88a30"/>
<polyline points="103.80,528.99 110.63,512.00 117.46,491.87 131.12,498.16 144.78,506.97 158.44,517.66" fill="none" stroke="#6a4c8c" stroke-width="1.0"/>
<rect x="102.50" y="527.69" width="2.60" height="2.60" fill="#1e1228"/>
<rect x="109.33" y="510.70" width="2.60" height="2.60" fill="#1e1228"/>
<rect x="116.16" y="490.57" width="2.60" height="2.60" fill="#1e1228"/>
<rect x="129.82" y="496.86" width="2.60" height="2.60" fill="#1e1228"/>
<rect x="143.48" y="505.67" width="2.60" height="2.60" fill="#1e1228"/>
<rect x="157.14" y="516.36" width="2.60" height="2.60" fill="#1e1228"/>
<text x="222.40" y="481.52" font-size="7.0" text-anchor="middle" fill="#222" stroke="#222" stroke-width="0.14">ANC</text>
<text transform="translate(179.35,518.2) rotate(-90)" x="0" y="0" font-size="8.2" font-weight="bold" text-anchor="middle" fill="#222" stroke="#222" stroke-width="0.1" textLength="33.7" lengthAdjust="spacingAndGlyphs">ANC (10<tspan font-size="5.2" dy="-2.8">9</tspan><tspan dy="2.8">/L)</tspan></text>
<line x1="193.40" y1="487.40" x2="193.40" y2="551.50" stroke="#1e1e1e" stroke-width="1.1"/>
<line x1="192.90" y1="551.00" x2="247.20" y2="551.00" stroke="#1e1e1e" stroke-width="1.1"/>
<line x1="190.90" y1="488.70" x2="193.40" y2="488.70" stroke="#1e1e1e" stroke-width="0.9"/>
<text x="187.40" y="490.82" font-size="5.9" text-anchor="end" fill="#222" stroke="#222" stroke-width="0.14">5</text>
<line x1="190.90" y1="501.16" x2="193.40" y2="501.16" stroke="#1e1e1e" stroke-width="0.9"/>
<text x="187.40" y="503.28" font-size="5.9" text-anchor="end" fill="#222" stroke="#222" stroke-width="0.14">4</text>
<line x1="190.90" y1="513.62" x2="193.40" y2="513.62" stroke="#1e1e1e" stroke-width="0.9"/>
<text x="187.40" y="515.74" font-size="5.9" text-anchor="end" fill="#222" stroke="#222" stroke-width="0.14">3</text>
<line x1="190.90" y1="526.08" x2="193.40" y2="526.08" stroke="#1e1e1e" stroke-width="0.9"/>
<text x="187.40" y="528.20" font-size="5.9" text-anchor="end" fill="#222" stroke="#222" stroke-width="0.14">2</text>
<line x1="190.90" y1="538.54" x2="193.40" y2="538.54" stroke="#1e1e1e" stroke-width="0.9"/>
<text x="187.40" y="540.66" font-size="5.9" text-anchor="end" fill="#222" stroke="#222" stroke-width="0.14">1</text>
<line x1="190.90" y1="551.00" x2="193.40" y2="551.00" stroke="#1e1e1e" stroke-width="0.9"/>
<text x="187.40" y="553.12" font-size="5.9" text-anchor="end" fill="#222" stroke="#222" stroke-width="0.14">0</text>
<line x1="193.40" y1="551.00" x2="193.40" y2="553.20" stroke="#1e1e1e" stroke-width="0.9"/>
<line x1="199.76" y1="551.00" x2="199.76" y2="553.20" stroke="#1e1e1e" stroke-width="0.9"/>
<line x1="206.12" y1="551.00" x2="206.12" y2="553.20" stroke="#1e1e1e" stroke-width="0.9"/>
<line x1="212.48" y1="551.00" x2="212.48" y2="553.20" stroke="#1e1e1e" stroke-width="0.9"/>
<line x1="218.84" y1="551.00" x2="218.84" y2="553.20" stroke="#1e1e1e" stroke-width="0.9"/>
<line x1="225.20" y1="551.00" x2="225.20" y2="553.20" stroke="#1e1e1e" stroke-width="0.9"/>
<line x1="231.56" y1="551.00" x2="231.56" y2="553.20" stroke="#1e1e1e" stroke-width="0.9"/>
<line x1="237.92" y1="551.00" x2="237.92" y2="553.20" stroke="#1e1e1e" stroke-width="0.9"/>
<line x1="244.28" y1="551.00" x2="244.28" y2="553.20" stroke="#1e1e1e" stroke-width="0.9"/>
<text x="193.40" y="562.61" font-size="6.7" text-anchor="middle" fill="#222" stroke="#222" stroke-width="0.14">0</text>
<text x="199.76" y="562.61" font-size="6.7" text-anchor="middle" fill="#222" stroke="#222" stroke-width="0.14">1</text>
<text x="206.12" y="562.61" font-size="6.7" text-anchor="middle" fill="#222" stroke="#222" stroke-width="0.14">2</text>
<text x="212.48" y="562.61" font-size="6.7" text-anchor="middle" fill="#222" stroke="#222" stroke-width="0.14">3</text>
<text x="218.84" y="562.61" font-size="6.7" text-anchor="middle" fill="#222" stroke="#222" stroke-width="0.14">4</text>
<text x="225.20" y="562.61" font-size="6.7" text-anchor="middle" fill="#222" stroke="#222" stroke-width="0.14">5</text>
<text x="231.56" y="562.61" font-size="6.7" text-anchor="middle" fill="#222" stroke="#222" stroke-width="0.14">6</text>
<text x="237.92" y="562.61" font-size="6.7" text-anchor="middle" fill="#222" stroke="#222" stroke-width="0.14">7</text>
<text x="244.28" y="562.61" font-size="6.7" text-anchor="middle" fill="#222" stroke="#222" stroke-width="0.14">8</text>
<text x="220.30" y="574.58" font-size="9.4" text-anchor="middle" fill="#222" textLength="14.80" lengthAdjust="spacingAndGlyphs" stroke="#222" stroke-width="0.3">Hours</text>
<polyline points="193.40,536.05 199.76,533.56 206.12,519.85 212.48,517.36 218.84,527.33 231.56,536.67 244.28,537.92" fill="none" stroke="#f5bd55" stroke-width="1.0"/>
<rect x="192.25" y="534.90" width="2.30" height="2.30" fill="#b88a30"/>
<rect x="198.61" y="532.41" width="2.30" height="2.30" fill="#b88a30"/>
<rect x="204.97" y="518.70" width="2.30" height="2.30" fill="#b88a30"/>
<rect x="211.33" y="516.21" width="2.30" height="2.30" fill="#b88a30"/>
<rect x="217.69" y="526.18" width="2.30" height="2.30" fill="#b88a30"/>
<rect x="230.41" y="535.52" width="2.30" height="2.30" fill="#b88a30"/>
<rect x="243.13" y="536.77" width="2.30" height="2.30" fill="#b88a30"/>
<polyline points="193.40,534.80 199.76,532.31 206.12,498.04 218.84,498.67 231.56,501.16 244.28,518.60" fill="none" stroke="#6a4c8c" stroke-width="1.0"/>
<rect x="192.10" y="533.50" width="2.60" height="2.60" fill="#1e1228"/>
<rect x="198.46" y="531.01" width="2.60" height="2.60" fill="#1e1228"/>
<rect x="204.82" y="496.74" width="2.60" height="2.60" fill="#1e1228"/>
<rect x="217.54" y="497.37" width="2.60" height="2.60" fill="#1e1228"/>
<rect x="230.26" y="499.86" width="2.60" height="2.60" fill="#1e1228"/>
<rect x="242.98" y="517.30" width="2.60" height="2.60" fill="#1e1228"/>
<text x="307.70" y="481.52" font-size="7.0" text-anchor="middle" fill="#222" stroke="#222" stroke-width="0.14">ALC</text>
<text transform="translate(263.55,519.4) rotate(-90)" x="0" y="0" font-size="8.2" font-weight="bold" text-anchor="middle" fill="#222" stroke="#222" stroke-width="0.1" textLength="28.8" lengthAdjust="spacingAndGlyphs">ALC (10<tspan font-size="5.2" dy="-2.8">9</tspan><tspan dy="2.8">/L)</tspan></text>
<line x1="279.30" y1="487.50" x2="279.30" y2="551.20" stroke="#1e1e1e" stroke-width="1.1"/>
<line x1="278.80" y1="550.70" x2="336.50" y2="550.70" stroke="#1e1e1e" stroke-width="1.1"/>
<line x1="276.80" y1="488.80" x2="279.30" y2="488.80" stroke="#1e1e1e" stroke-width="0.9"/>
<text x="273.00" y="490.92" font-size="5.9" text-anchor="end" fill="#222" stroke="#222" stroke-width="0.14">6</text>
<line x1="276.80" y1="499.12" x2="279.30" y2="499.12" stroke="#1e1e1e" stroke-width="0.9"/>
<text x="273.00" y="501.24" font-size="5.9" text-anchor="end" fill="#222" stroke="#222" stroke-width="0.14">5</text>
<line x1="276.80" y1="509.43" x2="279.30" y2="509.43" stroke="#1e1e1e" stroke-width="0.9"/>
<text x="273.00" y="511.56" font-size="5.9" text-anchor="end" fill="#222" stroke="#222" stroke-width="0.14">4</text>
<line x1="276.80" y1="519.75" x2="279.30" y2="519.75" stroke="#1e1e1e" stroke-width="0.9"/>
<text x="273.00" y="521.87" font-size="5.9" text-anchor="end" fill="#222" stroke="#222" stroke-width="0.14">3</text>
<line x1="276.80" y1="530.07" x2="279.30" y2="530.07" stroke="#1e1e1e" stroke-width="0.9"/>
<text x="273.00" y="532.19" font-size="5.9" text-anchor="end" fill="#222" stroke="#222" stroke-width="0.14">2</text>
<line x1="276.80" y1="540.38" x2="279.30" y2="540.38" stroke="#1e1e1e" stroke-width="0.9"/>
<text x="273.00" y="542.51" font-size="5.9" text-anchor="end" fill="#222" stroke="#222" stroke-width="0.14">1</text>
<line x1="276.80" y1="550.70" x2="279.30" y2="550.70" stroke="#1e1e1e" stroke-width="0.9"/>
<text x="273.00" y="552.82" font-size="5.9" text-anchor="end" fill="#222" stroke="#222" stroke-width="0.14">0</text>
<line x1="279.30" y1="550.70" x2="279.30" y2="552.90" stroke="#1e1e1e" stroke-width="0.9"/>
<line x1="286.16" y1="550.70" x2="286.16" y2="552.90" stroke="#1e1e1e" stroke-width="0.9"/>
<line x1="293.02" y1="550.70" x2="293.02" y2="552.90" stroke="#1e1e1e" stroke-width="0.9"/>
<line x1="299.88" y1="550.70" x2="299.88" y2="552.90" stroke="#1e1e1e" stroke-width="0.9"/>
<line x1="306.74" y1="550.70" x2="306.74" y2="552.90" stroke="#1e1e1e" stroke-width="0.9"/>
<line x1="313.60" y1="550.70" x2="313.60" y2="552.90" stroke="#1e1e1e" stroke-width="0.9"/>
<line x1="320.46" y1="550.70" x2="320.46" y2="552.90" stroke="#1e1e1e" stroke-width="0.9"/>
<line x1="327.32" y1="550.70" x2="327.32" y2="552.90" stroke="#1e1e1e" stroke-width="0.9"/>
<line x1="334.18" y1="550.70" x2="334.18" y2="552.90" stroke="#1e1e1e" stroke-width="0.9"/>
<text x="279.30" y="562.61" font-size="6.7" text-anchor="middle" fill="#222" stroke="#222" stroke-width="0.14">0</text>
<text x="286.16" y="562.61" font-size="6.7" text-anchor="middle" fill="#222" stroke="#222" stroke-width="0.14">1</text>
<text x="293.02" y="562.61" font-size="6.7" text-anchor="middle" fill="#222" stroke="#222" stroke-width="0.14">2</text>
<text x="299.88" y="562.61" font-size="6.7" text-anchor="middle" fill="#222" stroke="#222" stroke-width="0.14">3</text>
<text x="306.74" y="562.61" font-size="6.7" text-anchor="middle" fill="#222" stroke="#222" stroke-width="0.14">4</text>
<text x="313.60" y="562.61" font-size="6.7" text-anchor="middle" fill="#222" stroke="#222" stroke-width="0.14">5</text>
<text x="320.46" y="562.61" font-size="6.7" text-anchor="middle" fill="#222" stroke="#222" stroke-width="0.14">6</text>
<text x="327.32" y="562.61" font-size="6.7" text-anchor="middle" fill="#222" stroke="#222" stroke-width="0.14">7</text>
<text x="334.18" y="562.61" font-size="6.7" text-anchor="middle" fill="#222" stroke="#222" stroke-width="0.14">8</text>
<text x="308.40" y="574.58" font-size="9.4" text-anchor="middle" fill="#222" textLength="14.80" lengthAdjust="spacingAndGlyphs" stroke="#222" stroke-width="0.3">Hours</text>
<polyline points="279.30,532.65 286.16,534.19 293.02,533.68 299.88,529.55 306.74,532.65 320.46,528.52 334.18,528.00" fill="none" stroke="#f5bd55" stroke-width="1.0"/>
<rect x="278.15" y="531.50" width="2.30" height="2.30" fill="#b88a30"/>
<rect x="285.01" y="533.04" width="2.30" height="2.30" fill="#b88a30"/>
<rect x="291.87" y="532.53" width="2.30" height="2.30" fill="#b88a30"/>
<rect x="298.73" y="528.40" width="2.30" height="2.30" fill="#b88a30"/>
<rect x="305.59" y="531.50" width="2.30" height="2.30" fill="#b88a30"/>
<rect x="319.31" y="527.37" width="2.30" height="2.30" fill="#b88a30"/>
<rect x="333.03" y="526.85" width="2.30" height="2.30" fill="#b88a30"/>
<polyline points="279.30,530.07 286.16,504.28 293.02,499.12 306.74,510.47 320.46,521.81 334.18,524.91" fill="none" stroke="#6a4c8c" stroke-width="1.0"/>
<rect x="278.00" y="528.77" width="2.60" height="2.60" fill="#1e1228"/>
<rect x="284.86" y="502.98" width="2.60" height="2.60" fill="#1e1228"/>
<rect x="291.72" y="497.82" width="2.60" height="2.60" fill="#1e1228"/>
<rect x="305.44" y="509.17" width="2.60" height="2.60" fill="#1e1228"/>
<rect x="319.16" y="520.51" width="2.60" height="2.60" fill="#1e1228"/>
<rect x="332.88" y="523.61" width="2.60" height="2.60" fill="#1e1228"/>
<line x1="343.70" y1="506.30" x2="351.30" y2="506.30" stroke="#f5bd55" stroke-width="0.9"/>
<rect x="346.30" y="505.20" width="2.20" height="2.20" fill="#f5bd55"/>
<text x="353.70" y="508.71" font-size="6.7" text-anchor="start" fill="#222" textLength="17.50" lengthAdjust="spacingAndGlyphs" stroke="#222" stroke-width="0.14">Day -1</text>
<line x1="343.70" y1="515.00" x2="351.30" y2="515.00" stroke="#6a4c8c" stroke-width="0.9"/>
<rect x="346.30" y="513.90" width="2.20" height="2.20" fill="#6a4c8c"/>
<text x="353.70" y="517.41" font-size="6.7" text-anchor="start" fill="#222" textLength="52.50" lengthAdjust="spacingAndGlyphs" stroke="#222" stroke-width="0.14">Day 1 (mavorixafor)</text>
<rect x="0.5" y="0.5" width="519" height="582" fill="none" stroke="#4a4a4a" stroke-width="1.2"/>
</svg>
</body></html>
